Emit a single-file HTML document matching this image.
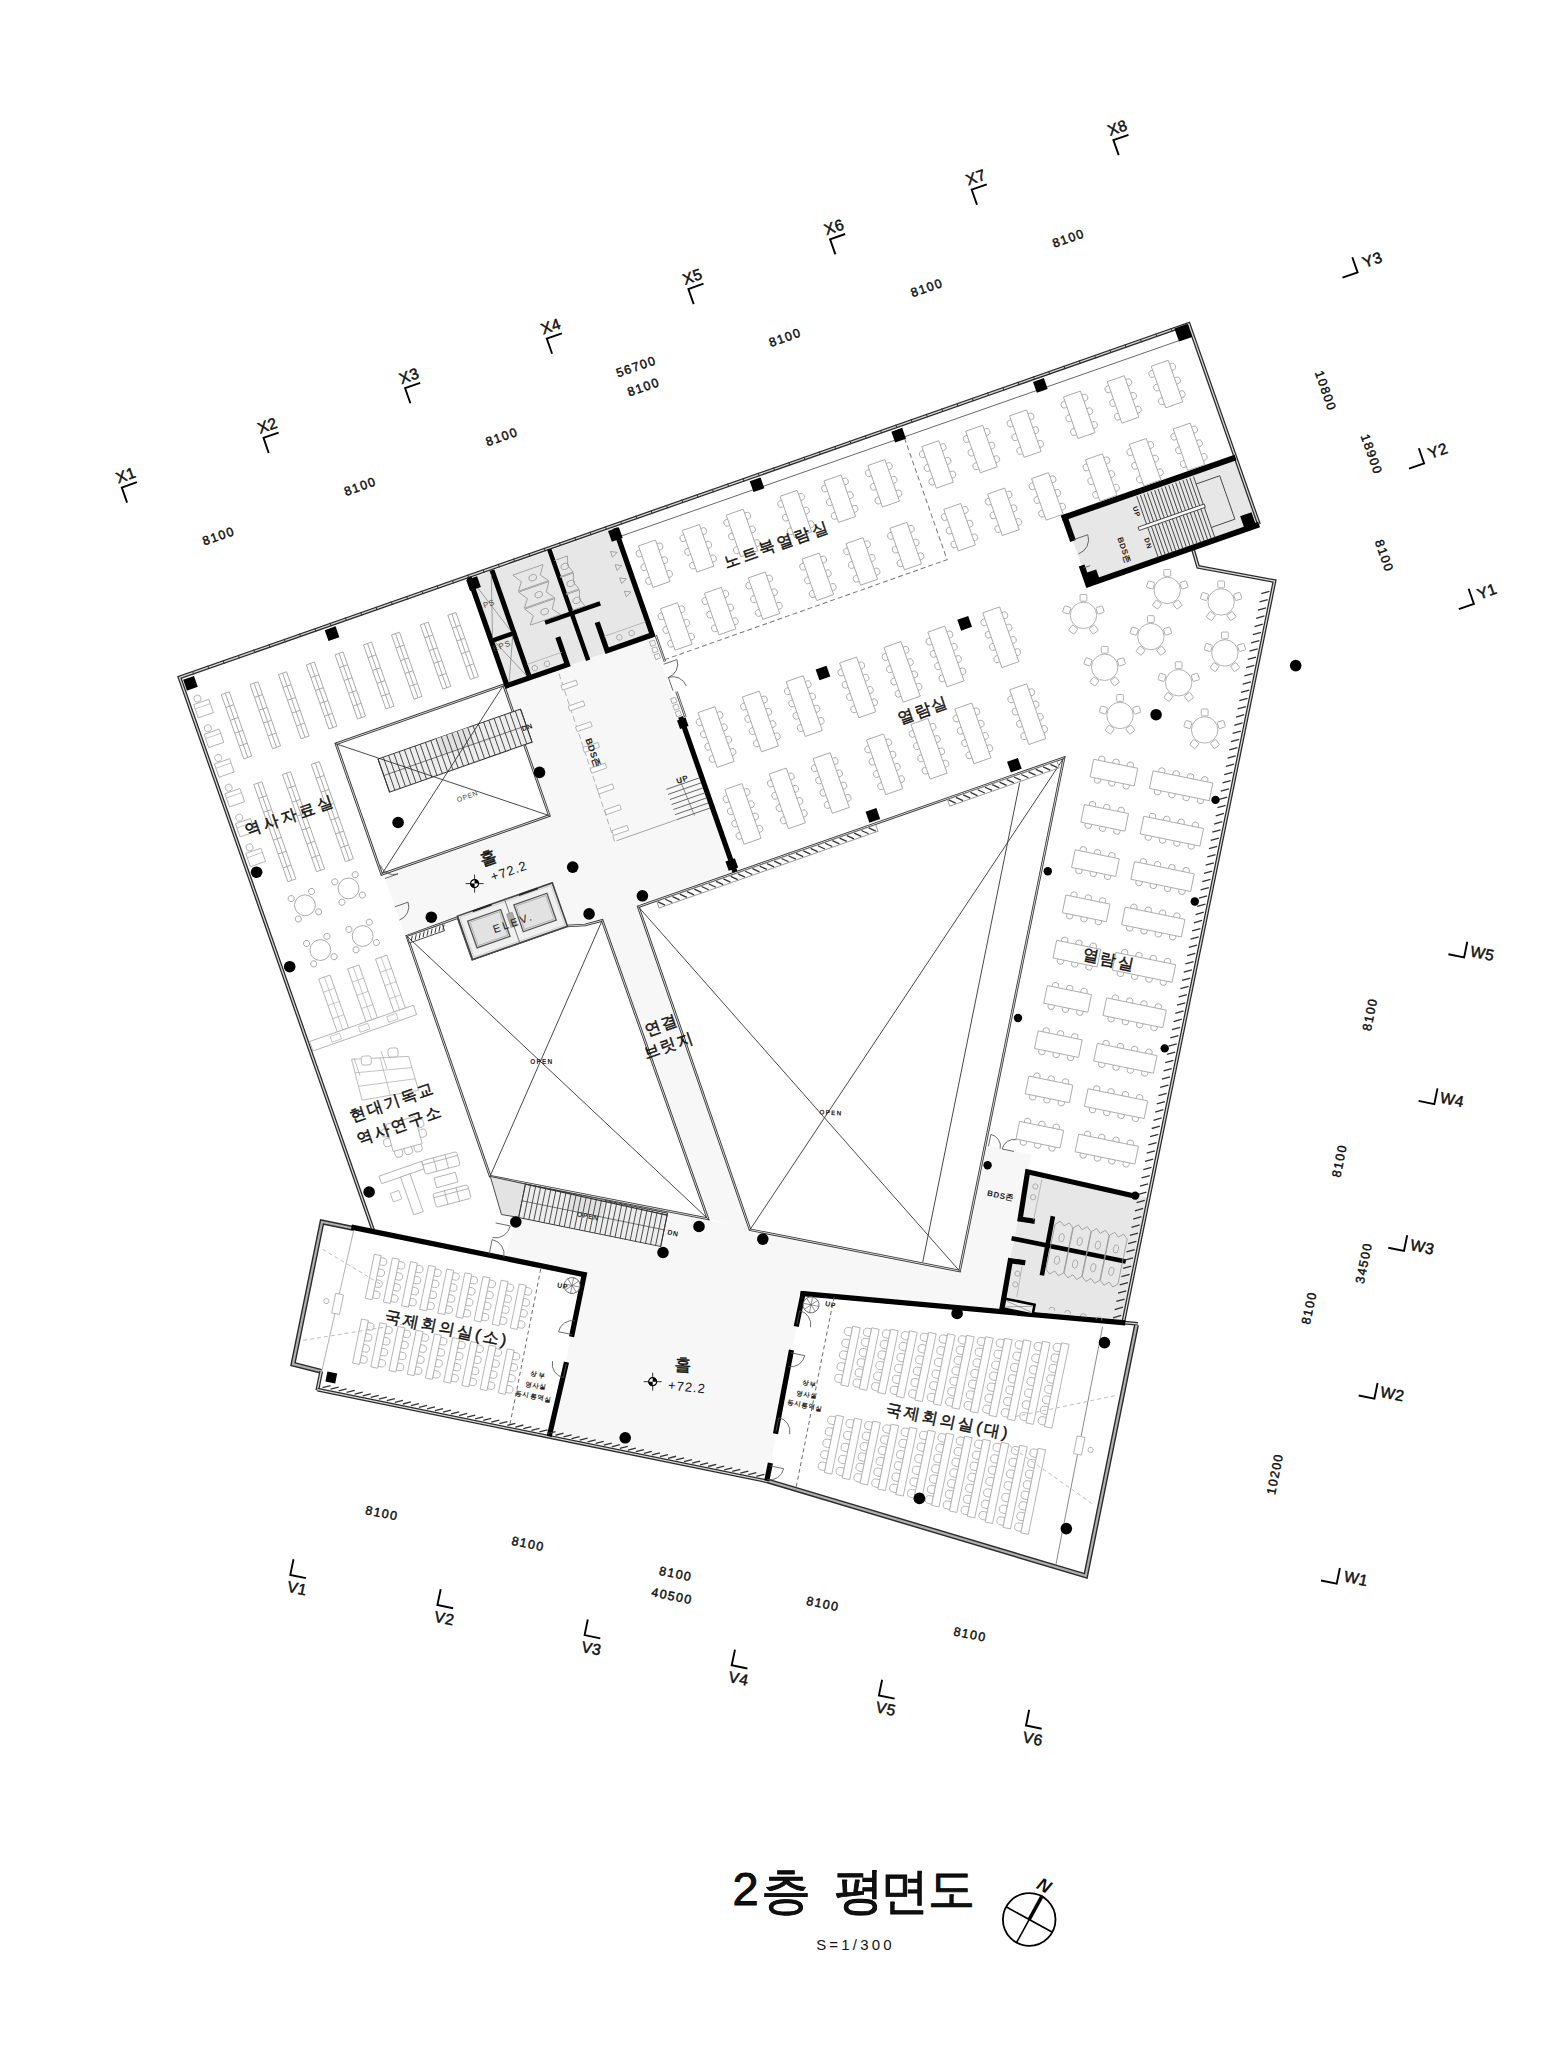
<!DOCTYPE html>
<html><head><meta charset="utf-8"><style>
html,body{margin:0;padding:0;background:#fff;overflow:hidden;}
svg{display:block;}
</style></head><body>
<svg width="1559" height="2048" viewBox="0 0 1559 2048">
<rect width="1559" height="2048" fill="#fff"/>
<polyline points="136.9,482.2 121.8,487.5 127.1,502.6" fill="none" stroke="#000" stroke-width="1.9"/>
<text x="125.9" y="474.9" font-size="15.5" font-family='"Liberation Sans", sans-serif' font-weight="normal" text-anchor="middle" dominant-baseline="central" fill="#111" letter-spacing="0.5" transform="rotate(-19.31 125.9 474.9)"  stroke="#111" stroke-width="0.5">X1</text>
<polyline points="278.6,432.6 263.5,437.9 268.7,453.0" fill="none" stroke="#000" stroke-width="1.9"/>
<text x="267.5" y="425.3" font-size="15.5" font-family='"Liberation Sans", sans-serif' font-weight="normal" text-anchor="middle" dominant-baseline="central" fill="#111" letter-spacing="0.5" transform="rotate(-19.31 267.5 425.3)"  stroke="#111" stroke-width="0.5">X2</text>
<polyline points="420.2,382.9 405.1,388.2 410.4,403.3" fill="none" stroke="#000" stroke-width="1.9"/>
<text x="409.2" y="375.7" font-size="15.5" font-family='"Liberation Sans", sans-serif' font-weight="normal" text-anchor="middle" dominant-baseline="central" fill="#111" letter-spacing="0.5" transform="rotate(-19.31 409.2 375.7)"  stroke="#111" stroke-width="0.5">X3</text>
<polyline points="561.9,333.3 546.8,338.6 552.1,353.7" fill="none" stroke="#000" stroke-width="1.9"/>
<text x="550.8" y="326.0" font-size="15.5" font-family='"Liberation Sans", sans-serif' font-weight="normal" text-anchor="middle" dominant-baseline="central" fill="#111" letter-spacing="0.5" transform="rotate(-19.31 550.8 326.0)"  stroke="#111" stroke-width="0.5">X4</text>
<polyline points="703.5,283.7 688.4,289.0 693.7,304.1" fill="none" stroke="#000" stroke-width="1.9"/>
<text x="692.5" y="276.4" font-size="15.5" font-family='"Liberation Sans", sans-serif' font-weight="normal" text-anchor="middle" dominant-baseline="central" fill="#111" letter-spacing="0.5" transform="rotate(-19.31 692.5 276.4)"  stroke="#111" stroke-width="0.5">X5</text>
<polyline points="845.2,234.0 830.1,239.3 835.4,254.4" fill="none" stroke="#000" stroke-width="1.9"/>
<text x="834.2" y="226.8" font-size="15.5" font-family='"Liberation Sans", sans-serif' font-weight="normal" text-anchor="middle" dominant-baseline="central" fill="#111" letter-spacing="0.5" transform="rotate(-19.31 834.2 226.8)"  stroke="#111" stroke-width="0.5">X6</text>
<polyline points="986.8,184.4 971.7,189.7 977.0,204.8" fill="none" stroke="#000" stroke-width="1.9"/>
<text x="975.8" y="177.1" font-size="15.5" font-family='"Liberation Sans", sans-serif' font-weight="normal" text-anchor="middle" dominant-baseline="central" fill="#111" letter-spacing="0.5" transform="rotate(-19.31 975.8 177.1)"  stroke="#111" stroke-width="0.5">X7</text>
<polyline points="1128.5,134.8 1113.4,140.0 1118.7,155.1" fill="none" stroke="#000" stroke-width="1.9"/>
<text x="1117.5" y="127.5" font-size="15.5" font-family='"Liberation Sans", sans-serif' font-weight="normal" text-anchor="middle" dominant-baseline="central" fill="#111" letter-spacing="0.5" transform="rotate(-19.31 1117.5 127.5)"  stroke="#111" stroke-width="0.5">X8</text>
<text x="218.7" y="536.2" font-size="12.5" font-family='"Liberation Sans", sans-serif' font-weight="normal" text-anchor="middle" dominant-baseline="central" fill="#111" letter-spacing="1.4" transform="rotate(-19.31 218.7 536.2)"  stroke="#111" stroke-width="0.45">8100</text>
<text x="360.4" y="486.6" font-size="12.5" font-family='"Liberation Sans", sans-serif' font-weight="normal" text-anchor="middle" dominant-baseline="central" fill="#111" letter-spacing="1.4" transform="rotate(-19.31 360.4 486.6)"  stroke="#111" stroke-width="0.45">8100</text>
<text x="502.0" y="436.9" font-size="12.5" font-family='"Liberation Sans", sans-serif' font-weight="normal" text-anchor="middle" dominant-baseline="central" fill="#111" letter-spacing="1.4" transform="rotate(-19.31 502.0 436.9)"  stroke="#111" stroke-width="0.45">8100</text>
<text x="643.7" y="387.3" font-size="12.5" font-family='"Liberation Sans", sans-serif' font-weight="normal" text-anchor="middle" dominant-baseline="central" fill="#111" letter-spacing="1.4" transform="rotate(-19.31 643.7 387.3)"  stroke="#111" stroke-width="0.45">8100</text>
<text x="785.3" y="337.6" font-size="12.5" font-family='"Liberation Sans", sans-serif' font-weight="normal" text-anchor="middle" dominant-baseline="central" fill="#111" letter-spacing="1.4" transform="rotate(-19.31 785.3 337.6)"  stroke="#111" stroke-width="0.45">8100</text>
<text x="927.0" y="288.0" font-size="12.5" font-family='"Liberation Sans", sans-serif' font-weight="normal" text-anchor="middle" dominant-baseline="central" fill="#111" letter-spacing="1.4" transform="rotate(-19.31 927.0 288.0)"  stroke="#111" stroke-width="0.45">8100</text>
<text x="1068.6" y="238.4" font-size="12.5" font-family='"Liberation Sans", sans-serif' font-weight="normal" text-anchor="middle" dominant-baseline="central" fill="#111" letter-spacing="1.4" transform="rotate(-19.31 1068.6 238.4)"  stroke="#111" stroke-width="0.45">8100</text>
<text x="636.3" y="366.9" font-size="12.5" font-family='"Liberation Sans", sans-serif' font-weight="normal" text-anchor="middle" dominant-baseline="central" fill="#111" letter-spacing="1.4" transform="rotate(-19.31 636.3 366.9)"  stroke="#111" stroke-width="0.45">56700</text>
<polyline points="1352.3,257.3 1357.6,272.4 1342.5,277.7" fill="none" stroke="#000" stroke-width="1.9"/>
<text x="1372.3" y="259.5" font-size="15.5" font-family='"Liberation Sans", sans-serif' font-weight="normal" text-anchor="middle" dominant-baseline="central" fill="#111" letter-spacing="0.5" transform="rotate(-19.31 1372.3 259.5)"  stroke="#111" stroke-width="0.5">Y3</text>
<polyline points="1418.8,448.2 1424.1,463.3 1409.0,468.6" fill="none" stroke="#000" stroke-width="1.9"/>
<text x="1437.8" y="450.6" font-size="15.5" font-family='"Liberation Sans", sans-serif' font-weight="normal" text-anchor="middle" dominant-baseline="central" fill="#111" letter-spacing="0.5" transform="rotate(-19.31 1437.8 450.6)"  stroke="#111" stroke-width="0.5">Y2</text>
<polyline points="1468.6,588.8 1473.9,603.9 1458.8,609.2" fill="none" stroke="#000" stroke-width="1.9"/>
<text x="1487.0" y="591.2" font-size="15.5" font-family='"Liberation Sans", sans-serif' font-weight="normal" text-anchor="middle" dominant-baseline="central" fill="#111" letter-spacing="0.5" transform="rotate(-19.31 1487.0 591.2)"  stroke="#111" stroke-width="0.5">Y1</text>
<text x="1325.4" y="391.0" font-size="12.5" font-family='"Liberation Sans", sans-serif' font-weight="normal" text-anchor="middle" dominant-baseline="central" fill="#111" letter-spacing="1.4" transform="rotate(70.69 1325.4 391.0)"  stroke="#111" stroke-width="0.45">10800</text>
<text x="1371.3" y="454.5" font-size="12.5" font-family='"Liberation Sans", sans-serif' font-weight="normal" text-anchor="middle" dominant-baseline="central" fill="#111" letter-spacing="1.4" transform="rotate(70.69 1371.3 454.5)"  stroke="#111" stroke-width="0.45">18900</text>
<text x="1384.0" y="556.0" font-size="12.5" font-family='"Liberation Sans", sans-serif' font-weight="normal" text-anchor="middle" dominant-baseline="central" fill="#111" letter-spacing="1.4" transform="rotate(70.69 1384.0 556.0)"  stroke="#111" stroke-width="0.45">8100</text>
<polyline points="1467.3,941.7 1464.1,957.4 1448.4,954.2" fill="none" stroke="#000" stroke-width="1.9"/>
<text x="1482.5" y="953.2" font-size="15.5" font-family='"Liberation Sans", sans-serif' font-weight="normal" text-anchor="middle" dominant-baseline="central" fill="#111" letter-spacing="0.5" transform="rotate(11.57 1482.5 953.2)"  stroke="#111" stroke-width="0.5">W5</text>
<polyline points="1437.5,1088.4 1434.3,1104.1 1418.6,1100.9" fill="none" stroke="#000" stroke-width="1.9"/>
<text x="1452.2" y="1099.6" font-size="15.5" font-family='"Liberation Sans", sans-serif' font-weight="normal" text-anchor="middle" dominant-baseline="central" fill="#111" letter-spacing="0.5" transform="rotate(11.57 1452.2 1099.6)"  stroke="#111" stroke-width="0.5">W4</text>
<polyline points="1407.2,1235.3 1404.0,1251.0 1388.3,1247.8" fill="none" stroke="#000" stroke-width="1.9"/>
<text x="1422.5" y="1246.9" font-size="15.5" font-family='"Liberation Sans", sans-serif' font-weight="normal" text-anchor="middle" dominant-baseline="central" fill="#111" letter-spacing="0.5" transform="rotate(11.57 1422.5 1246.9)"  stroke="#111" stroke-width="0.5">W3</text>
<polyline points="1377.6,1383.0 1374.4,1398.7 1358.7,1395.5" fill="none" stroke="#000" stroke-width="1.9"/>
<text x="1392.4" y="1393.8" font-size="15.5" font-family='"Liberation Sans", sans-serif' font-weight="normal" text-anchor="middle" dominant-baseline="central" fill="#111" letter-spacing="0.5" transform="rotate(11.57 1392.4 1393.8)"  stroke="#111" stroke-width="0.5">W2</text>
<polyline points="1339.9,1568.0 1336.7,1583.7 1321.0,1580.5" fill="none" stroke="#000" stroke-width="1.9"/>
<text x="1356.2" y="1578.4" font-size="15.5" font-family='"Liberation Sans", sans-serif' font-weight="normal" text-anchor="middle" dominant-baseline="central" fill="#111" letter-spacing="0.5" transform="rotate(11.57 1356.2 1578.4)"  stroke="#111" stroke-width="0.5">W1</text>
<text x="1370.2" y="1014.3" font-size="12.5" font-family='"Liberation Sans", sans-serif' font-weight="normal" text-anchor="middle" dominant-baseline="central" fill="#111" letter-spacing="1.4" transform="rotate(-78.43 1370.2 1014.3)"  stroke="#111" stroke-width="0.45">8100</text>
<text x="1339.7" y="1160.7" font-size="12.5" font-family='"Liberation Sans", sans-serif' font-weight="normal" text-anchor="middle" dominant-baseline="central" fill="#111" letter-spacing="1.4" transform="rotate(-78.43 1339.7 1160.7)"  stroke="#111" stroke-width="0.45">8100</text>
<text x="1364.0" y="1263.0" font-size="12.5" font-family='"Liberation Sans", sans-serif' font-weight="normal" text-anchor="middle" dominant-baseline="central" fill="#111" letter-spacing="1.4" transform="rotate(-78.43 1364.0 1263.0)"  stroke="#111" stroke-width="0.45">34500</text>
<text x="1309.3" y="1307.9" font-size="12.5" font-family='"Liberation Sans", sans-serif' font-weight="normal" text-anchor="middle" dominant-baseline="central" fill="#111" letter-spacing="1.4" transform="rotate(-78.43 1309.3 1307.9)"  stroke="#111" stroke-width="0.45">8100</text>
<text x="1275.2" y="1473.9" font-size="12.5" font-family='"Liberation Sans", sans-serif' font-weight="normal" text-anchor="middle" dominant-baseline="central" fill="#111" letter-spacing="1.4" transform="rotate(-78.43 1275.2 1473.9)"  stroke="#111" stroke-width="0.45">10200</text>
<polyline points="293.5,1559.2 290.3,1574.9 306.0,1578.1" fill="none" stroke="#000" stroke-width="1.9"/>
<text x="297.3" y="1588.1" font-size="15.5" font-family='"Liberation Sans", sans-serif' font-weight="normal" text-anchor="middle" dominant-baseline="central" fill="#111" letter-spacing="0.5" transform="rotate(11.57 297.3 1588.1)"  stroke="#111" stroke-width="0.5">V1</text>
<polyline points="440.7,1589.3 437.4,1605.0 453.1,1608.2" fill="none" stroke="#000" stroke-width="1.9"/>
<text x="444.4" y="1618.2" font-size="15.5" font-family='"Liberation Sans", sans-serif' font-weight="normal" text-anchor="middle" dominant-baseline="central" fill="#111" letter-spacing="0.5" transform="rotate(11.57 444.4 1618.2)"  stroke="#111" stroke-width="0.5">V2</text>
<polyline points="587.8,1619.5 584.6,1635.1 600.3,1638.4" fill="none" stroke="#000" stroke-width="1.9"/>
<text x="591.6" y="1648.3" font-size="15.5" font-family='"Liberation Sans", sans-serif' font-weight="normal" text-anchor="middle" dominant-baseline="central" fill="#111" letter-spacing="0.5" transform="rotate(11.57 591.6 1648.3)"  stroke="#111" stroke-width="0.5">V3</text>
<polyline points="735.0,1649.6 731.7,1665.3 747.4,1668.5" fill="none" stroke="#000" stroke-width="1.9"/>
<text x="738.7" y="1678.4" font-size="15.5" font-family='"Liberation Sans", sans-serif' font-weight="normal" text-anchor="middle" dominant-baseline="central" fill="#111" letter-spacing="0.5" transform="rotate(11.57 738.7 1678.4)"  stroke="#111" stroke-width="0.5">V4</text>
<polyline points="882.1,1679.7 878.9,1695.4 894.6,1698.6" fill="none" stroke="#000" stroke-width="1.9"/>
<text x="885.9" y="1708.6" font-size="15.5" font-family='"Liberation Sans", sans-serif' font-weight="normal" text-anchor="middle" dominant-baseline="central" fill="#111" letter-spacing="0.5" transform="rotate(11.57 885.9 1708.6)"  stroke="#111" stroke-width="0.5">V5</text>
<polyline points="1029.2,1709.8 1026.0,1725.5 1041.7,1728.7" fill="none" stroke="#000" stroke-width="1.9"/>
<text x="1033.0" y="1738.7" font-size="15.5" font-family='"Liberation Sans", sans-serif' font-weight="normal" text-anchor="middle" dominant-baseline="central" fill="#111" letter-spacing="0.5" transform="rotate(11.57 1033.0 1738.7)"  stroke="#111" stroke-width="0.5">V6</text>
<text x="381.9" y="1513.4" font-size="12.5" font-family='"Liberation Sans", sans-serif' font-weight="normal" text-anchor="middle" dominant-baseline="central" fill="#111" letter-spacing="1.4" transform="rotate(11.57 381.9 1513.4)"  stroke="#111" stroke-width="0.45">8100</text>
<text x="528.1" y="1544.1" font-size="12.5" font-family='"Liberation Sans", sans-serif' font-weight="normal" text-anchor="middle" dominant-baseline="central" fill="#111" letter-spacing="1.4" transform="rotate(11.57 528.1 1544.1)"  stroke="#111" stroke-width="0.45">8100</text>
<text x="675.7" y="1574.1" font-size="12.5" font-family='"Liberation Sans", sans-serif' font-weight="normal" text-anchor="middle" dominant-baseline="central" fill="#111" letter-spacing="1.4" transform="rotate(11.57 675.7 1574.1)"  stroke="#111" stroke-width="0.45">8100</text>
<text x="822.9" y="1604.1" font-size="12.5" font-family='"Liberation Sans", sans-serif' font-weight="normal" text-anchor="middle" dominant-baseline="central" fill="#111" letter-spacing="1.4" transform="rotate(11.57 822.9 1604.1)"  stroke="#111" stroke-width="0.45">8100</text>
<text x="970.1" y="1634.7" font-size="12.5" font-family='"Liberation Sans", sans-serif' font-weight="normal" text-anchor="middle" dominant-baseline="central" fill="#111" letter-spacing="1.4" transform="rotate(11.57 970.1 1634.7)"  stroke="#111" stroke-width="0.45">8100</text>
<text x="672.0" y="1596.3" font-size="12.5" font-family='"Liberation Sans", sans-serif' font-weight="normal" text-anchor="middle" dominant-baseline="central" fill="#111" letter-spacing="1.4" transform="rotate(11.57 672.0 1596.3)"  stroke="#111" stroke-width="0.45">40500</text>
<text x="745.5" y="1888.5" font-size="47" font-family='"Liberation Sans", sans-serif' font-weight="normal" text-anchor="middle" dominant-baseline="central" fill="#111" letter-spacing="0" transform="rotate(0.00 745.5 1888.5)" stroke="#000" stroke-width="0.9">2</text>
<text x="786.0" y="1891.0" font-size="50" font-family='"Liberation Sans", sans-serif' font-weight="normal" text-anchor="middle" dominant-baseline="central" fill="#111" letter-spacing="0" transform="rotate(0.00 786.0 1891.0)" stroke="#000" stroke-width="0.9">층</text>
<text x="859.0" y="1891.0" font-size="50" font-family='"Liberation Sans", sans-serif' font-weight="normal" text-anchor="middle" dominant-baseline="central" fill="#111" letter-spacing="0" transform="rotate(0.00 859.0 1891.0)" stroke="#000" stroke-width="0.9">평</text>
<text x="904.0" y="1890.5" font-size="49" font-family='"Liberation Sans", sans-serif' font-weight="normal" text-anchor="middle" dominant-baseline="central" fill="#111" letter-spacing="0" transform="rotate(0.00 904.0 1890.5)" stroke="#000" stroke-width="0.9">면</text>
<text x="951.0" y="1888.5" font-size="47" font-family='"Liberation Sans", sans-serif' font-weight="normal" text-anchor="middle" dominant-baseline="central" fill="#111" letter-spacing="0" transform="rotate(0.00 951.0 1888.5)" stroke="#000" stroke-width="0.9">도</text>
<text x="855.5" y="1944.3" font-size="15" font-family='"Liberation Sans", sans-serif' font-weight="normal" text-anchor="middle" dominant-baseline="central" fill="#111" letter-spacing="3.2" transform="rotate(0.00 855.5 1944.3)" >S=1/300</text>
<circle cx="1029.2" cy="1919.5" r="26.3" fill="none" stroke="#000" stroke-width="1.8"/>
<line x1="1016.5" y1="1942.7" x2="1041.9" y2="1896.3" stroke="#000" stroke-width="1.6"/>
<line x1="1029.2" y1="1919.5" x2="1042.4" y2="1895.4" stroke="#000" stroke-width="3.6"/>
<line x1="1052.4" y1="1932.2" x2="1006.0" y2="1906.8" stroke="#000" stroke-width="1.6"/>
<text x="1044.0" y="1885.5" font-size="18" font-family='"Liberation Sans", sans-serif' font-weight="bold" text-anchor="middle" dominant-baseline="central" fill="#111" letter-spacing="0" transform="rotate(28.70 1044.0 1885.5)" font-style="italic">N</text>
<polygon points="505.6,687.8 651.9,636.6 734.6,872.5 638.3,906.7 649.4,938.4 613.7,950.9 602.9,920.1 584.5,925.1 566.8,926.0 552.0,883.5 404.7,935.1 383.2,873.8 550.3,815.2" fill="#f7f7f7" stroke="none" stroke-width="1" />
<polygon points="600.5,913.1 636.2,900.6 750.0,1229.7 707.9,1218.8" fill="#f7f7f7" stroke="none" stroke-width="1" />
<polygon points="490.1,1176.2 959.6,1271.0 985.3,1145.1 1031.5,1154.5 1000.1,1308.4 803.0,1293.7 767.1,1481.3 550.8,1434.1 583.6,1273.4 505.2,1257.4 516.5,1216.8 501.3,1214.3" fill="#f7f7f7" stroke="none" stroke-width="1" />
<polygon points="467.6,579.3 616.7,527.0 654.7,635.6 505.6,687.8" fill="#e7e7e7" stroke="none" stroke-width="1" />
<polygon points="1064.4,516.4 1235.2,456.5 1259.0,524.5 1088.2,584.3" fill="#e7e7e7" stroke="none" stroke-width="1" />
<polygon points="1027.7,1173.1 1150.2,1198.1 1124.7,1322.9 1000.3,1307.4" fill="#e7e7e7" stroke="none" stroke-width="1" />
<polygon points="336.0,743.8 503.6,685.0 549.3,815.6 381.7,874.3" fill="#fff" stroke="none" stroke-width="1" />
<polygon points="406.9,936.1 457.9,917.5 472.5,959.0 566.8,926.0 585.1,925.0 602.2,920.4 707.9,1218.8 490.1,1176.2" fill="#fff" stroke="none" stroke-width="1" />
<polygon points="638.3,906.7 1064.0,757.7 959.6,1271.0 750.0,1229.7" fill="#fff" stroke="none" stroke-width="1" />
<polygon points="336.0,743.8 503.6,685.0 549.3,815.6 381.7,874.3" fill="none" stroke="#333" stroke-width="2.6"/>
<polygon points="336.0,743.8 503.6,685.0 549.3,815.6 381.7,874.3" fill="none" stroke="#fff" stroke-width="0.8"/>
<polygon points="406.9,936.1 457.9,917.5 472.5,959.0 566.8,926.0 585.1,925.0 602.2,920.4 707.9,1218.8 490.1,1176.2" fill="none" stroke="#333" stroke-width="2.6"/>
<polygon points="406.9,936.1 457.9,917.5 472.5,959.0 566.8,926.0 585.1,925.0 602.2,920.4 707.9,1218.8 490.1,1176.2" fill="none" stroke="#fff" stroke-width="0.8"/>
<polygon points="638.3,906.7 1064.0,757.7 959.6,1271.0 750.0,1229.7" fill="none" stroke="#333" stroke-width="2.6"/>
<polygon points="638.3,906.7 1064.0,757.7 959.6,1271.0 750.0,1229.7" fill="none" stroke="#fff" stroke-width="0.8"/>
<line x1="638.3" y1="906.7" x2="959.6" y2="1271.0" stroke="#333" stroke-width="0.9" />
<line x1="1064.0" y1="757.7" x2="750.0" y2="1229.7" stroke="#333" stroke-width="0.9" />
<line x1="1019.7" y1="782.7" x2="922.7" y2="1262.2" stroke="#333" stroke-width="0.9" />
<polyline points="373.2,1230.4 179.5,677.5 1188.7,323.9 1259.0,524.5" fill="none" stroke="#2a2a2a" stroke-width="3.8" stroke-linejoin="miter"/>
<polyline points="373.2,1230.4 179.5,677.5 1188.7,323.9 1259.0,524.5" fill="none" stroke="#d8d8d8" stroke-width="1.3" stroke-linejoin="miter"/>
<polyline points="1193.2,550.1 1198.1,566.9 1274.5,581.1 1123.2,1322.6" fill="none" stroke="#2a2a2a" stroke-width="3.8" stroke-linejoin="miter"/>
<polyline points="1193.2,550.1 1198.1,566.9 1274.5,581.1 1123.2,1322.6" fill="none" stroke="#d8d8d8" stroke-width="1.3" stroke-linejoin="miter"/>
<polyline points="804.8,1294.1 1137.8,1323.8" fill="none" stroke="#2a2a2a" stroke-width="3.8" stroke-linejoin="miter"/>
<polyline points="804.8,1294.1 1137.8,1323.8" fill="none" stroke="#d8d8d8" stroke-width="1.3" stroke-linejoin="miter"/>
<polyline points="1136.5,1325.0 1085.7,1575.9 767.2,1480.8" fill="none" stroke="#2a2a2a" stroke-width="5" stroke-linejoin="miter"/>
<polyline points="1136.5,1325.0 1085.7,1575.9 767.2,1480.8" fill="none" stroke="#b0b0b0" stroke-width="2.2" stroke-linejoin="miter"/>
<polyline points="353.8,1228.5 322.0,1222.0 293.0,1364.1 321.2,1371.3" fill="none" stroke="#2a2a2a" stroke-width="5" stroke-linejoin="miter"/>
<polyline points="353.8,1228.5 322.0,1222.0 293.0,1364.1 321.2,1371.3" fill="none" stroke="#b0b0b0" stroke-width="2.2" stroke-linejoin="miter"/>
<polyline points="321.2,1371.3 317.3,1390.5" fill="none" stroke="#2a2a2a" stroke-width="3.8" stroke-linejoin="miter"/>
<polyline points="321.2,1371.3 317.3,1390.5" fill="none" stroke="#d8d8d8" stroke-width="1.3" stroke-linejoin="miter"/>
<polyline points="317.5,1389.6 767.1,1481.3" fill="none" stroke="#2a2a2a" stroke-width="3.8" stroke-linejoin="miter"/>
<polyline points="317.5,1389.6 767.1,1481.3" fill="none" stroke="#d8d8d8" stroke-width="1.3" stroke-linejoin="miter"/>
<polyline points="469.8,579.6 507.0,685.7 567.4,664.6 558.7,639.6" fill="none" stroke="#000" stroke-width="5.2" stroke-linecap="square" stroke-linejoin="miter"/>
<polyline points="492.8,572.6 529.2,676.4" fill="none" stroke="#000" stroke-width="5" stroke-linecap="square" stroke-linejoin="miter"/>
<polyline points="492.3,640.6 514.0,633.0" fill="none" stroke="#000" stroke-width="4.5" stroke-linecap="square" stroke-linejoin="miter"/>
<polyline points="550.0,551.5 587.4,658.1" fill="none" stroke="#000" stroke-width="4.5" stroke-linecap="square" stroke-linejoin="miter"/>
<polyline points="547.2,621.9 598.1,604.0" fill="none" stroke="#000" stroke-width="4.5" stroke-linecap="square" stroke-linejoin="miter"/>
<polyline points="598.0,624.7 607.1,650.7 652.4,634.8 615.8,530.5" fill="none" stroke="#000" stroke-width="5.2" stroke-linecap="square" stroke-linejoin="miter"/>
<polyline points="681.5,719.4 734.1,869.5" fill="none" stroke="#000" stroke-width="5.2" stroke-linecap="square" stroke-linejoin="miter"/>
<polyline points="1064.7,517.3 1232.7,458.5" fill="none" stroke="#000" stroke-width="6" stroke-linecap="square" stroke-linejoin="miter"/>
<polyline points="1064.7,517.3 1072.0,538.1" fill="none" stroke="#000" stroke-width="6" stroke-linecap="square" stroke-linejoin="miter"/>
<polyline points="1082.6,568.3 1088.2,584.3 1256.2,525.5" fill="none" stroke="#000" stroke-width="6" stroke-linecap="square" stroke-linejoin="miter"/>
<polyline points="354.0,1227.6 584.3,1274.6 572.1,1334.3" fill="none" stroke="#000" stroke-width="5.2" stroke-linecap="square" stroke-linejoin="miter"/>
<polyline points="565.9,1364.7 549.8,1433.9" fill="none" stroke="#000" stroke-width="5.2" stroke-linecap="square" stroke-linejoin="miter"/>
<polyline points="803.0,1293.7 796.8,1324.0" fill="none" stroke="#000" stroke-width="5.2" stroke-linecap="square" stroke-linejoin="miter"/>
<polyline points="791.0,1352.5 776.0,1431.1" fill="none" stroke="#000" stroke-width="5.2" stroke-linecap="square" stroke-linejoin="miter"/>
<polyline points="769.9,1465.6 767.3,1478.3" fill="none" stroke="#000" stroke-width="5.2" stroke-linecap="square" stroke-linejoin="miter"/>
<polyline points="1032.2,1221.0 1020.1,1219.1 1027.6,1171.8 1135.1,1196.1" fill="none" stroke="#000" stroke-width="5.2" stroke-linecap="square" stroke-linejoin="miter"/>
<polyline points="1013.8,1238.7 1123.5,1261.1" fill="none" stroke="#000" stroke-width="4.6" stroke-linecap="square" stroke-linejoin="miter"/>
<polyline points="1052.5,1218.5 1042.3,1273.1" fill="none" stroke="#000" stroke-width="4.6" stroke-linecap="square" stroke-linejoin="miter"/>
<polyline points="1022.7,1262.4 1010.3,1260.7 1001.6,1310.7" fill="none" stroke="#000" stroke-width="5.2" stroke-linecap="square" stroke-linejoin="miter"/>
<polyline points="803.0,1293.7 1122.7,1322.7" fill="none" stroke="#000" stroke-width="5.2" stroke-linecap="square" stroke-linejoin="miter"/>
<defs><g id="t3" fill="#fff" stroke="#a9a9a9" stroke-width="0.9"><circle cx="-10.5" cy="-14.5" r="3.4"/><circle cx="10.5" cy="-14.5" r="3.4"/><circle cx="-10.5" cy="0" r="3.4"/><circle cx="10.5" cy="0" r="3.4"/><circle cx="-10.5" cy="14.5" r="3.4"/><circle cx="10.5" cy="14.5" r="3.4"/><rect x="-9" y="-22" width="18" height="44"/></g><g id="t4" fill="#fff" stroke="#a9a9a9" stroke-width="0.9"><circle cx="-10.5" cy="-19.5" r="3.4"/><circle cx="10.5" cy="-19.5" r="3.4"/><circle cx="-10.5" cy="-6.5" r="3.4"/><circle cx="10.5" cy="-6.5" r="3.4"/><circle cx="-10.5" cy="6.5" r="3.4"/><circle cx="10.5" cy="6.5" r="3.4"/><circle cx="-10.5" cy="19.5" r="3.4"/><circle cx="10.5" cy="19.5" r="3.4"/><rect x="-9" y="-29" width="18" height="58"/></g><g id="rt4" fill="#fff" stroke="#a9a9a9" stroke-width="0.9"><circle cx="10.8" cy="10.8" r="3.1"/><circle cx="-10.8" cy="10.8" r="3.1"/><circle cx="-10.8" cy="-10.8" r="3.1"/><circle cx="10.8" cy="-10.8" r="3.1"/><circle r="10.4"/></g><g id="rt5" fill="#fff" stroke="#a9a9a9" stroke-width="0.9"><rect x="-3.4" y="-3.4" width="6.8" height="6.8" rx="1" transform="rotate(0) translate(0,-17.5)"/><rect x="-3.4" y="-3.4" width="6.8" height="6.8" rx="1" transform="rotate(72) translate(0,-17.5)"/><rect x="-3.4" y="-3.4" width="6.8" height="6.8" rx="1" transform="rotate(144) translate(0,-17.5)"/><rect x="-3.4" y="-3.4" width="6.8" height="6.8" rx="1" transform="rotate(216) translate(0,-17.5)"/><rect x="-3.4" y="-3.4" width="6.8" height="6.8" rx="1" transform="rotate(288) translate(0,-17.5)"/><circle r="13.2"/></g><g id="h3" fill="#fff" stroke="#a9a9a9" stroke-width="0.9"><circle cx="-14.6" cy="-10.5" r="3.3"/><circle cx="-14.6" cy="10.5" r="3.3"/><circle cx="0" cy="-10.5" r="3.3"/><circle cx="0" cy="10.5" r="3.3"/><circle cx="14.6" cy="-10.5" r="3.3"/><circle cx="14.6" cy="10.5" r="3.3"/><rect x="-22.5" y="-9" width="45" height="18"/></g><g id="h4" fill="#fff" stroke="#a9a9a9" stroke-width="0.9"><circle cx="-21.9" cy="-10.5" r="3.3"/><circle cx="-21.9" cy="10.5" r="3.3"/><circle cx="-7.3" cy="-10.5" r="3.3"/><circle cx="-7.3" cy="10.5" r="3.3"/><circle cx="7.3" cy="-10.5" r="3.3"/><circle cx="7.3" cy="10.5" r="3.3"/><circle cx="21.9" cy="-10.5" r="3.3"/><circle cx="21.9" cy="10.5" r="3.3"/><rect x="-30.5" y="-9" width="61" height="18"/></g><g id="sh5" fill="#fff" stroke="#a9a9a9" stroke-width="0.9"><rect x="-4.25" y="-34.0" width="8.5" height="68"/><line x1="0" y1="-34.0" x2="0" y2="34.0"/><line x1="-4.25" y1="-20.4" x2="4.25" y2="-20.4"/><line x1="-4.25" y1="-6.8" x2="4.25" y2="-6.8"/><line x1="-4.25" y1="6.8" x2="4.25" y2="6.8"/><line x1="-4.25" y1="20.4" x2="4.25" y2="20.4"/></g><g id="sh7" fill="#fff" stroke="#a9a9a9" stroke-width="0.9"><rect x="-4.25" y="-51.5" width="8.5" height="103"/><line x1="0" y1="-51.5" x2="0" y2="51.5"/><line x1="-4.25" y1="-36.8" x2="4.25" y2="-36.8"/><line x1="-4.25" y1="-22.1" x2="4.25" y2="-22.1"/><line x1="-4.25" y1="-7.4" x2="4.25" y2="-7.4"/><line x1="-4.25" y1="7.4" x2="4.25" y2="7.4"/><line x1="-4.25" y1="22.1" x2="4.25" y2="22.1"/><line x1="-4.25" y1="36.8" x2="4.25" y2="36.8"/></g></defs>
<g transform="matrix(0.94374,-0.33069,0.33069,0.94374,121.8,487.5)"><use href="#t3" transform="translate(477.3,248.0) rotate(0)"/><use href="#t3" transform="translate(477.3,314.5) rotate(0)"/><use href="#t3" transform="translate(523.8,248.0) rotate(0)"/><use href="#t3" transform="translate(523.8,314.5) rotate(0)"/><use href="#t3" transform="translate(570.3,248.0) rotate(0)"/><use href="#t3" transform="translate(570.3,314.5) rotate(0)"/><use href="#t3" transform="translate(627.4,248.0) rotate(0)"/><use href="#t3" transform="translate(627.4,314.5) rotate(0)"/><use href="#t3" transform="translate(673.9,248.0) rotate(0)"/><use href="#t3" transform="translate(673.9,314.5) rotate(0)"/><use href="#t3" transform="translate(720.4,248.0) rotate(0)"/><use href="#t3" transform="translate(720.4,314.5) rotate(0)"/><use href="#t3" transform="translate(777.5,248.0) rotate(0)"/><use href="#t3" transform="translate(777.5,314.5) rotate(0)"/><use href="#t3" transform="translate(824.0,248.0) rotate(0)"/><use href="#t3" transform="translate(824.0,314.5) rotate(0)"/><use href="#t3" transform="translate(870.5,248.0) rotate(0)"/><use href="#t3" transform="translate(870.5,314.5) rotate(0)"/><use href="#t3" transform="translate(927.6,248.0) rotate(0)"/><use href="#t3" transform="translate(927.6,314.5) rotate(0)"/><use href="#t3" transform="translate(974.1,248.0) rotate(0)"/><use href="#t3" transform="translate(974.1,314.5) rotate(0)"/><use href="#t3" transform="translate(1020.6,248.0) rotate(0)"/><use href="#t3" transform="translate(1020.6,314.5) rotate(0)"/><use href="#t4" transform="translate(478.3,432.0) rotate(0)"/><use href="#t4" transform="translate(478.3,513.5) rotate(0)"/><use href="#t4" transform="translate(525.3,432.0) rotate(0)"/><use href="#t4" transform="translate(525.3,513.5) rotate(0)"/><use href="#t4" transform="translate(571.8,432.0) rotate(0)"/><use href="#t4" transform="translate(571.8,513.5) rotate(0)"/><use href="#t4" transform="translate(628.4,432.0) rotate(0)"/><use href="#t4" transform="translate(628.4,513.5) rotate(0)"/><use href="#t4" transform="translate(675.4,432.0) rotate(0)"/><use href="#t4" transform="translate(675.4,513.5) rotate(0)"/><use href="#t4" transform="translate(721.9,432.0) rotate(0)"/><use href="#t4" transform="translate(721.9,513.5) rotate(0)"/><use href="#t4" transform="translate(780.0,432.0) rotate(0)"/><use href="#t4" transform="translate(780.0,513.5) rotate(0)"/><use href="#sh5" transform="translate(29.6,262.4) rotate(0)"/><use href="#sh5" transform="translate(60.1,262.4) rotate(0)"/><use href="#sh5" transform="translate(90.3,262.4) rotate(0)"/><use href="#sh5" transform="translate(119.8,262.4) rotate(0)"/><use href="#sh5" transform="translate(150.2,262.4) rotate(0)"/><use href="#sh5" transform="translate(180.3,262.4) rotate(0)"/><use href="#sh5" transform="translate(210.0,262.4) rotate(0)"/><use href="#sh5" transform="translate(240.5,262.4) rotate(0)"/><use href="#sh5" transform="translate(269.7,262.4) rotate(0)"/><use href="#sh7" transform="translate(30.6,375.5) rotate(0)"/><use href="#sh7" transform="translate(61.0,375.5) rotate(0)"/><use href="#sh7" transform="translate(91.5,375.5) rotate(0)"/><use href="#rt4" transform="translate(34.7,454.8) rotate(0)"/><use href="#rt4" transform="translate(81.4,453.4) rotate(0)"/><use href="#rt4" transform="translate(34.4,502.2) rotate(0)"/><use href="#rt4" transform="translate(79.0,502.9) rotate(0)"/></g>
<g transform="matrix(0.97968,0.20056,-0.20056,0.97968,290.3,1574.9)"><use href="#h3" transform="translate(646.0,-951.2) rotate(0)"/><use href="#h3" transform="translate(646.0,-905.0) rotate(0)"/><use href="#h3" transform="translate(646.0,-858.8) rotate(0)"/><use href="#h3" transform="translate(646.0,-812.6) rotate(0)"/><use href="#h3" transform="translate(646.0,-766.4) rotate(0)"/><use href="#h3" transform="translate(646.0,-720.2) rotate(0)"/><use href="#h3" transform="translate(646.0,-674.0) rotate(0)"/><use href="#h3" transform="translate(646.0,-627.8) rotate(0)"/><use href="#h3" transform="translate(646.0,-581.6) rotate(0)"/><use href="#h4" transform="translate(714.5,-951.8) rotate(0)"/><use href="#h4" transform="translate(714.5,-905.4) rotate(0)"/><use href="#h4" transform="translate(714.5,-859.1) rotate(0)"/><use href="#h4" transform="translate(714.5,-812.7) rotate(0)"/><use href="#h4" transform="translate(714.5,-766.4) rotate(0)"/><use href="#h4" transform="translate(714.5,-720.0) rotate(0)"/><use href="#h4" transform="translate(714.5,-673.6) rotate(0)"/><use href="#h4" transform="translate(714.5,-627.3) rotate(0)"/><use href="#h4" transform="translate(714.5,-580.9) rotate(0)"/><use href="#rt5" transform="translate(661.7,-1140.4) rotate(-11.57)"/><use href="#rt5" transform="translate(716.8,-1139.9) rotate(-11.57)"/><use href="#rt5" transform="translate(584.6,-1099.1) rotate(-11.57)"/><use href="#rt5" transform="translate(654.9,-1091.9) rotate(-11.57)"/><use href="#rt5" transform="translate(730.7,-1090.7) rotate(-11.57)"/><use href="#rt5" transform="translate(615.8,-1052.5) rotate(-11.57)"/><use href="#rt5" transform="translate(691.4,-1052.2) rotate(-11.57)"/><use href="#rt5" transform="translate(640.5,-1008.4) rotate(-11.57)"/><use href="#rt5" transform="translate(726.3,-1011.2) rotate(-11.57)"/></g>
<g transform="matrix(0.94374,-0.33069,0.33069,0.94374,121.8,487.5)"><rect x="152.0" y="341.0" width="151.0" height="35.0" fill="#ededed" stroke="#333" stroke-width="1" /><rect x="212.0" y="341.0" width="36.0" height="17.5" fill="#e0e0e0" stroke="none" stroke-width="0.8" /><line x1="152.0" y1="341.0" x2="152.0" y2="376.0" stroke="#333" stroke-width="0.8" /><line x1="157.6" y1="341.0" x2="157.6" y2="376.0" stroke="#333" stroke-width="0.8" /><line x1="163.2" y1="341.0" x2="163.2" y2="376.0" stroke="#333" stroke-width="0.8" /><line x1="168.8" y1="341.0" x2="168.8" y2="376.0" stroke="#333" stroke-width="0.8" /><line x1="174.4" y1="341.0" x2="174.4" y2="376.0" stroke="#333" stroke-width="0.8" /><line x1="180.0" y1="341.0" x2="180.0" y2="376.0" stroke="#333" stroke-width="0.8" /><line x1="185.6" y1="341.0" x2="185.6" y2="376.0" stroke="#333" stroke-width="0.8" /><line x1="191.1" y1="341.0" x2="191.1" y2="376.0" stroke="#333" stroke-width="0.8" /><line x1="196.7" y1="341.0" x2="196.7" y2="376.0" stroke="#333" stroke-width="0.8" /><line x1="202.3" y1="341.0" x2="202.3" y2="376.0" stroke="#333" stroke-width="0.8" /><line x1="207.9" y1="341.0" x2="207.9" y2="376.0" stroke="#333" stroke-width="0.8" /><line x1="213.5" y1="341.0" x2="213.5" y2="376.0" stroke="#333" stroke-width="0.8" /><line x1="219.1" y1="341.0" x2="219.1" y2="376.0" stroke="#333" stroke-width="0.8" /><line x1="224.7" y1="341.0" x2="224.7" y2="376.0" stroke="#333" stroke-width="0.8" /><line x1="230.3" y1="341.0" x2="230.3" y2="376.0" stroke="#333" stroke-width="0.8" /><line x1="235.9" y1="341.0" x2="235.9" y2="376.0" stroke="#333" stroke-width="0.8" /><line x1="241.5" y1="341.0" x2="241.5" y2="376.0" stroke="#333" stroke-width="0.8" /><line x1="247.1" y1="341.0" x2="247.1" y2="376.0" stroke="#333" stroke-width="0.8" /><line x1="252.7" y1="341.0" x2="252.7" y2="376.0" stroke="#333" stroke-width="0.8" /><line x1="258.3" y1="341.0" x2="258.3" y2="376.0" stroke="#333" stroke-width="0.8" /><line x1="263.9" y1="341.0" x2="263.9" y2="376.0" stroke="#333" stroke-width="0.8" /><line x1="269.4" y1="341.0" x2="269.4" y2="376.0" stroke="#333" stroke-width="0.8" /><line x1="275.0" y1="341.0" x2="275.0" y2="376.0" stroke="#333" stroke-width="0.8" /><line x1="280.6" y1="341.0" x2="280.6" y2="376.0" stroke="#333" stroke-width="0.8" /><line x1="286.2" y1="341.0" x2="286.2" y2="376.0" stroke="#333" stroke-width="0.8" /><line x1="291.8" y1="341.0" x2="291.8" y2="376.0" stroke="#333" stroke-width="0.8" /><line x1="297.4" y1="341.0" x2="297.4" y2="376.0" stroke="#333" stroke-width="0.8" /><line x1="303.0" y1="341.0" x2="303.0" y2="376.0" stroke="#333" stroke-width="0.8" /><line x1="152.0" y1="358.5" x2="303.0" y2="358.5" stroke="#333" stroke-width="0.6" /><line x1="955.0" y1="344.0" x2="955.0" y2="374.0" stroke="#333" stroke-width="0.8" /><line x1="955.0" y1="377.0" x2="955.0" y2="409.0" stroke="#333" stroke-width="0.8" /><line x1="958.8" y1="344.0" x2="958.8" y2="374.0" stroke="#333" stroke-width="0.8" /><line x1="958.8" y1="377.0" x2="958.8" y2="409.0" stroke="#333" stroke-width="0.8" /><line x1="962.5" y1="344.0" x2="962.5" y2="374.0" stroke="#333" stroke-width="0.8" /><line x1="962.5" y1="377.0" x2="962.5" y2="409.0" stroke="#333" stroke-width="0.8" /><line x1="966.2" y1="344.0" x2="966.2" y2="374.0" stroke="#333" stroke-width="0.8" /><line x1="966.2" y1="377.0" x2="966.2" y2="409.0" stroke="#333" stroke-width="0.8" /><line x1="970.0" y1="344.0" x2="970.0" y2="374.0" stroke="#333" stroke-width="0.8" /><line x1="970.0" y1="377.0" x2="970.0" y2="409.0" stroke="#333" stroke-width="0.8" /><line x1="973.8" y1="344.0" x2="973.8" y2="374.0" stroke="#333" stroke-width="0.8" /><line x1="973.8" y1="377.0" x2="973.8" y2="409.0" stroke="#333" stroke-width="0.8" /><line x1="977.5" y1="344.0" x2="977.5" y2="374.0" stroke="#333" stroke-width="0.8" /><line x1="977.5" y1="377.0" x2="977.5" y2="409.0" stroke="#333" stroke-width="0.8" /><line x1="981.2" y1="344.0" x2="981.2" y2="374.0" stroke="#333" stroke-width="0.8" /><line x1="981.2" y1="377.0" x2="981.2" y2="409.0" stroke="#333" stroke-width="0.8" /><line x1="985.0" y1="344.0" x2="985.0" y2="374.0" stroke="#333" stroke-width="0.8" /><line x1="985.0" y1="377.0" x2="985.0" y2="409.0" stroke="#333" stroke-width="0.8" /><line x1="988.8" y1="344.0" x2="988.8" y2="374.0" stroke="#333" stroke-width="0.8" /><line x1="988.8" y1="377.0" x2="988.8" y2="409.0" stroke="#333" stroke-width="0.8" /><line x1="992.5" y1="344.0" x2="992.5" y2="374.0" stroke="#333" stroke-width="0.8" /><line x1="992.5" y1="377.0" x2="992.5" y2="409.0" stroke="#333" stroke-width="0.8" /><line x1="996.2" y1="344.0" x2="996.2" y2="374.0" stroke="#333" stroke-width="0.8" /><line x1="996.2" y1="377.0" x2="996.2" y2="409.0" stroke="#333" stroke-width="0.8" /><line x1="1000.0" y1="344.0" x2="1000.0" y2="374.0" stroke="#333" stroke-width="0.8" /><line x1="1000.0" y1="377.0" x2="1000.0" y2="409.0" stroke="#333" stroke-width="0.8" /><line x1="1003.8" y1="344.0" x2="1003.8" y2="374.0" stroke="#333" stroke-width="0.8" /><line x1="1003.8" y1="377.0" x2="1003.8" y2="409.0" stroke="#333" stroke-width="0.8" /><line x1="1007.5" y1="344.0" x2="1007.5" y2="374.0" stroke="#333" stroke-width="0.8" /><line x1="1007.5" y1="377.0" x2="1007.5" y2="409.0" stroke="#333" stroke-width="0.8" /><line x1="1011.2" y1="344.0" x2="1011.2" y2="374.0" stroke="#333" stroke-width="0.8" /><line x1="1011.2" y1="377.0" x2="1011.2" y2="409.0" stroke="#333" stroke-width="0.8" /><line x1="1015.0" y1="344.0" x2="1015.0" y2="374.0" stroke="#333" stroke-width="0.8" /><line x1="1015.0" y1="377.0" x2="1015.0" y2="409.0" stroke="#333" stroke-width="0.8" /><rect x="946.0" y="373.5" width="70.0" height="3.5" fill="#fff" stroke="#333" stroke-width="0.8" /><polyline points="1015,352 1040,352 1040,398 1015,398" fill="none" stroke="#333" stroke-width="0.8"/><line x1="414.0" y1="465.0" x2="449.0" y2="465.0" stroke="#555" stroke-width="0.8" /><line x1="414.0" y1="470.3" x2="449.0" y2="470.3" stroke="#555" stroke-width="0.8" /><line x1="414.0" y1="475.7" x2="449.0" y2="475.7" stroke="#555" stroke-width="0.8" /><line x1="414.0" y1="481.0" x2="449.0" y2="481.0" stroke="#555" stroke-width="0.8" /><line x1="414.0" y1="486.3" x2="449.0" y2="486.3" stroke="#555" stroke-width="0.8" /><line x1="414.0" y1="491.7" x2="449.0" y2="491.7" stroke="#555" stroke-width="0.8" /><line x1="414.0" y1="497.0" x2="449.0" y2="497.0" stroke="#555" stroke-width="0.8" /><line x1="430.0" y1="460.0" x2="432.0" y2="499.0" stroke="#555" stroke-width="0.6" /><line x1="350.0" y1="497.0" x2="414.0" y2="497.0" stroke="#999" stroke-width="0.8" /><line x1="351.0" y1="320.0" x2="348.0" y2="497.0" stroke="#aaa" stroke-width="0.8" stroke-dasharray="6,3"/><rect x="349.0" y="332.0" width="16.0" height="5.0" fill="#fff" stroke="#aaa" stroke-width="0.8" /><rect x="349.0" y="354.0" width="16.0" height="5.0" fill="#fff" stroke="#aaa" stroke-width="0.8" /><rect x="349.0" y="376.0" width="16.0" height="5.0" fill="#fff" stroke="#aaa" stroke-width="0.8" /><rect x="349.0" y="398.0" width="16.0" height="5.0" fill="#fff" stroke="#aaa" stroke-width="0.8" /><rect x="349.0" y="420.0" width="16.0" height="5.0" fill="#fff" stroke="#aaa" stroke-width="0.8" /><rect x="349.0" y="442.0" width="16.0" height="5.0" fill="#fff" stroke="#aaa" stroke-width="0.8" /><rect x="349.0" y="464.0" width="16.0" height="5.0" fill="#fff" stroke="#aaa" stroke-width="0.8" /><rect x="349.0" y="486.0" width="16.0" height="5.0" fill="#fff" stroke="#aaa" stroke-width="0.8" /><line x1="455.0" y1="316.0" x2="455.0" y2="344.0" stroke="#444" stroke-width="2.4" /><line x1="455.0" y1="316.0" x2="455.0" y2="344.0" stroke="#fff" stroke-width="0.7" /><line x1="456.0" y1="376.0" x2="456.0" y2="403.0" stroke="#444" stroke-width="2.4" /><line x1="456.0" y1="376.0" x2="456.0" y2="403.0" stroke="#fff" stroke-width="0.7" /><rect x="447.0" y="320.0" width="5.0" height="5.0" fill="none" stroke="#999" stroke-width="0.7" /><rect x="447.0" y="327.0" width="5.0" height="5.0" fill="none" stroke="#999" stroke-width="0.7" /><rect x="447.0" y="334.0" width="5.0" height="5.0" fill="none" stroke="#999" stroke-width="0.7" /><rect x="448.0" y="381.0" width="5.0" height="5.0" fill="none" stroke="#999" stroke-width="0.7" /><rect x="448.0" y="388.0" width="5.0" height="5.0" fill="none" stroke="#999" stroke-width="0.7" /><rect x="448.0" y="395.0" width="5.0" height="5.0" fill="none" stroke="#999" stroke-width="0.7" /><line x1="454.0" y1="211.0" x2="1058.0" y2="211.0" stroke="#555" stroke-width="0.8" /><polyline points="455,342 755,341 755,212" fill="none" stroke="#777" stroke-width="1" stroke-dasharray="5,3"/><rect x="368.0" y="567.5" width="232.0" height="7.0" fill="#fff" stroke="#666" stroke-width="0.6" /><line x1="369.0" y1="568.3" x2="374.6" y2="573.7" stroke="#333" stroke-width="1.3" /><line x1="376.7" y1="568.3" x2="382.3" y2="573.7" stroke="#333" stroke-width="1.3" /><line x1="384.4" y1="568.3" x2="390.0" y2="573.7" stroke="#333" stroke-width="1.3" /><line x1="392.1" y1="568.3" x2="397.7" y2="573.7" stroke="#333" stroke-width="1.3" /><line x1="399.8" y1="568.3" x2="405.4" y2="573.7" stroke="#333" stroke-width="1.3" /><line x1="407.5" y1="568.3" x2="413.1" y2="573.7" stroke="#333" stroke-width="1.3" /><line x1="415.2" y1="568.3" x2="420.8" y2="573.7" stroke="#333" stroke-width="1.3" /><line x1="422.9" y1="568.3" x2="428.5" y2="573.7" stroke="#333" stroke-width="1.3" /><line x1="430.6" y1="568.3" x2="436.2" y2="573.7" stroke="#333" stroke-width="1.3" /><line x1="438.3" y1="568.3" x2="443.9" y2="573.7" stroke="#333" stroke-width="1.3" /><line x1="446.0" y1="568.3" x2="451.6" y2="573.7" stroke="#333" stroke-width="1.3" /><line x1="453.7" y1="568.3" x2="459.3" y2="573.7" stroke="#333" stroke-width="1.3" /><line x1="461.4" y1="568.3" x2="467.0" y2="573.7" stroke="#333" stroke-width="1.3" /><line x1="469.1" y1="568.3" x2="474.7" y2="573.7" stroke="#333" stroke-width="1.3" /><line x1="476.8" y1="568.3" x2="482.4" y2="573.7" stroke="#333" stroke-width="1.3" /><line x1="484.5" y1="568.3" x2="490.1" y2="573.7" stroke="#333" stroke-width="1.3" /><line x1="492.2" y1="568.3" x2="497.8" y2="573.7" stroke="#333" stroke-width="1.3" /><line x1="499.9" y1="568.3" x2="505.5" y2="573.7" stroke="#333" stroke-width="1.3" /><line x1="507.6" y1="568.3" x2="513.2" y2="573.7" stroke="#333" stroke-width="1.3" /><line x1="515.3" y1="568.3" x2="520.9" y2="573.7" stroke="#333" stroke-width="1.3" /><line x1="523.0" y1="568.3" x2="528.6" y2="573.7" stroke="#333" stroke-width="1.3" /><line x1="530.7" y1="568.3" x2="536.3" y2="573.7" stroke="#333" stroke-width="1.3" /><line x1="538.4" y1="568.3" x2="544.0" y2="573.7" stroke="#333" stroke-width="1.3" /><line x1="546.1" y1="568.3" x2="551.7" y2="573.7" stroke="#333" stroke-width="1.3" /><line x1="553.8" y1="568.3" x2="559.4" y2="573.7" stroke="#333" stroke-width="1.3" /><line x1="561.5" y1="568.3" x2="567.1" y2="573.7" stroke="#333" stroke-width="1.3" /><line x1="569.2" y1="568.3" x2="574.8" y2="573.7" stroke="#333" stroke-width="1.3" /><line x1="576.9" y1="568.3" x2="582.5" y2="573.7" stroke="#333" stroke-width="1.3" /><line x1="584.6" y1="568.3" x2="590.2" y2="573.7" stroke="#333" stroke-width="1.3" /><line x1="592.3" y1="568.3" x2="597.9" y2="573.7" stroke="#333" stroke-width="1.3" /><rect x="676.0" y="567.5" width="116.0" height="7.0" fill="#fff" stroke="#666" stroke-width="0.6" /><line x1="677.0" y1="568.3" x2="682.6" y2="573.7" stroke="#333" stroke-width="1.3" /><line x1="684.7" y1="568.3" x2="690.3" y2="573.7" stroke="#333" stroke-width="1.3" /><line x1="692.4" y1="568.3" x2="698.0" y2="573.7" stroke="#333" stroke-width="1.3" /><line x1="700.1" y1="568.3" x2="705.7" y2="573.7" stroke="#333" stroke-width="1.3" /><line x1="707.8" y1="568.3" x2="713.4" y2="573.7" stroke="#333" stroke-width="1.3" /><line x1="715.5" y1="568.3" x2="721.1" y2="573.7" stroke="#333" stroke-width="1.3" /><line x1="723.2" y1="568.3" x2="728.8" y2="573.7" stroke="#333" stroke-width="1.3" /><line x1="730.9" y1="568.3" x2="736.5" y2="573.7" stroke="#333" stroke-width="1.3" /><line x1="738.6" y1="568.3" x2="744.2" y2="573.7" stroke="#333" stroke-width="1.3" /><line x1="746.3" y1="568.3" x2="751.9" y2="573.7" stroke="#333" stroke-width="1.3" /><line x1="754.0" y1="568.3" x2="759.6" y2="573.7" stroke="#333" stroke-width="1.3" /><line x1="761.7" y1="568.3" x2="767.3" y2="573.7" stroke="#333" stroke-width="1.3" /><line x1="769.4" y1="568.3" x2="775.0" y2="573.7" stroke="#333" stroke-width="1.3" /><line x1="777.1" y1="568.3" x2="782.7" y2="573.7" stroke="#333" stroke-width="1.3" /><line x1="784.8" y1="568.3" x2="790.4" y2="573.7" stroke="#333" stroke-width="1.3" /><rect x="121.0" y="518.0" width="37.0" height="7.0" fill="#fff" stroke="#333" stroke-width="0.8" /><line x1="123.0" y1="524.0" x2="126.0" y2="519.0" stroke="#333" stroke-width="0.9" /><line x1="127.2" y1="524.0" x2="130.2" y2="519.0" stroke="#333" stroke-width="0.9" /><line x1="131.4" y1="524.0" x2="134.4" y2="519.0" stroke="#333" stroke-width="0.9" /><line x1="135.6" y1="524.0" x2="138.6" y2="519.0" stroke="#333" stroke-width="0.9" /><line x1="139.8" y1="524.0" x2="142.8" y2="519.0" stroke="#333" stroke-width="0.9" /><line x1="144.0" y1="524.0" x2="147.0" y2="519.0" stroke="#333" stroke-width="0.9" /><line x1="148.2" y1="524.0" x2="151.2" y2="519.0" stroke="#333" stroke-width="0.9" /><line x1="152.4" y1="524.0" x2="155.4" y2="519.0" stroke="#333" stroke-width="0.9" /><line x1="156.6" y1="524.0" x2="159.6" y2="519.0" stroke="#333" stroke-width="0.9" /></g>
<g transform="matrix(0.97968,0.20056,-0.20056,0.97968,290.3,1574.9)"><rect x="150.0" y="-430.0" width="147.0" height="34.0" fill="#ededed" stroke="#333" stroke-width="1" /><polygon points="116,-430.5 152,-430 152,-396 134.6,-395.4" fill="#e3e3e3" stroke="#333" stroke-width="0.8"/><rect x="197.0" y="-430.0" width="36.0" height="17.0" fill="#e0e0e0" stroke="none" stroke-width="0.8" /><line x1="152.0" y1="-430.0" x2="152.0" y2="-396.0" stroke="#333" stroke-width="0.8" /><line x1="157.2" y1="-430.0" x2="157.2" y2="-396.0" stroke="#333" stroke-width="0.8" /><line x1="162.4" y1="-430.0" x2="162.4" y2="-396.0" stroke="#333" stroke-width="0.8" /><line x1="167.5" y1="-430.0" x2="167.5" y2="-396.0" stroke="#333" stroke-width="0.8" /><line x1="172.7" y1="-430.0" x2="172.7" y2="-396.0" stroke="#333" stroke-width="0.8" /><line x1="177.9" y1="-430.0" x2="177.9" y2="-396.0" stroke="#333" stroke-width="0.8" /><line x1="183.1" y1="-430.0" x2="183.1" y2="-396.0" stroke="#333" stroke-width="0.8" /><line x1="188.2" y1="-430.0" x2="188.2" y2="-396.0" stroke="#333" stroke-width="0.8" /><line x1="193.4" y1="-430.0" x2="193.4" y2="-396.0" stroke="#333" stroke-width="0.8" /><line x1="198.6" y1="-430.0" x2="198.6" y2="-396.0" stroke="#333" stroke-width="0.8" /><line x1="203.8" y1="-430.0" x2="203.8" y2="-396.0" stroke="#333" stroke-width="0.8" /><line x1="209.0" y1="-430.0" x2="209.0" y2="-396.0" stroke="#333" stroke-width="0.8" /><line x1="214.1" y1="-430.0" x2="214.1" y2="-396.0" stroke="#333" stroke-width="0.8" /><line x1="219.3" y1="-430.0" x2="219.3" y2="-396.0" stroke="#333" stroke-width="0.8" /><line x1="224.5" y1="-430.0" x2="224.5" y2="-396.0" stroke="#333" stroke-width="0.8" /><line x1="229.7" y1="-430.0" x2="229.7" y2="-396.0" stroke="#333" stroke-width="0.8" /><line x1="234.9" y1="-430.0" x2="234.9" y2="-396.0" stroke="#333" stroke-width="0.8" /><line x1="240.0" y1="-430.0" x2="240.0" y2="-396.0" stroke="#333" stroke-width="0.8" /><line x1="245.2" y1="-430.0" x2="245.2" y2="-396.0" stroke="#333" stroke-width="0.8" /><line x1="250.4" y1="-430.0" x2="250.4" y2="-396.0" stroke="#333" stroke-width="0.8" /><line x1="255.6" y1="-430.0" x2="255.6" y2="-396.0" stroke="#333" stroke-width="0.8" /><line x1="260.8" y1="-430.0" x2="260.8" y2="-396.0" stroke="#333" stroke-width="0.8" /><line x1="265.9" y1="-430.0" x2="265.9" y2="-396.0" stroke="#333" stroke-width="0.8" /><line x1="271.1" y1="-430.0" x2="271.1" y2="-396.0" stroke="#333" stroke-width="0.8" /><line x1="276.3" y1="-430.0" x2="276.3" y2="-396.0" stroke="#333" stroke-width="0.8" /><line x1="281.5" y1="-430.0" x2="281.5" y2="-396.0" stroke="#333" stroke-width="0.8" /><line x1="286.6" y1="-430.0" x2="286.6" y2="-396.0" stroke="#333" stroke-width="0.8" /><line x1="291.8" y1="-430.0" x2="291.8" y2="-396.0" stroke="#333" stroke-width="0.8" /><line x1="297.0" y1="-430.0" x2="297.0" y2="-396.0" stroke="#333" stroke-width="0.8" /><line x1="152.0" y1="-413.0" x2="297.0" y2="-413.0" stroke="#333" stroke-width="0.6" /><line x1="152.0" y1="-430.0" x2="297.0" y2="-428.0" stroke="#333" stroke-width="1.2" /><circle cx="218" cy="-340" r="8" fill="#fff" stroke="#555" stroke-width="0.8"/><line x1="218.0" y1="-340.0" x2="226.0" y2="-340.0" stroke="#555" stroke-width="0.6" /><line x1="218.0" y1="-340.0" x2="223.7" y2="-334.3" stroke="#555" stroke-width="0.6" /><line x1="218.0" y1="-340.0" x2="218.0" y2="-332.0" stroke="#555" stroke-width="0.6" /><line x1="218.0" y1="-340.0" x2="212.3" y2="-334.3" stroke="#555" stroke-width="0.6" /><line x1="218.0" y1="-340.0" x2="210.0" y2="-340.0" stroke="#555" stroke-width="0.6" /><line x1="218.0" y1="-340.0" x2="212.3" y2="-345.7" stroke="#555" stroke-width="0.6" /><line x1="218.0" y1="-340.0" x2="218.0" y2="-348.0" stroke="#555" stroke-width="0.6" /><line x1="218.0" y1="-340.0" x2="223.7" y2="-345.7" stroke="#555" stroke-width="0.6" /><circle cx="456" cy="-369" r="8" fill="#fff" stroke="#555" stroke-width="0.8"/><line x1="456.0" y1="-369.0" x2="464.0" y2="-369.0" stroke="#555" stroke-width="0.6" /><line x1="456.0" y1="-369.0" x2="461.7" y2="-363.3" stroke="#555" stroke-width="0.6" /><line x1="456.0" y1="-369.0" x2="456.0" y2="-361.0" stroke="#555" stroke-width="0.6" /><line x1="456.0" y1="-369.0" x2="450.3" y2="-363.3" stroke="#555" stroke-width="0.6" /><line x1="456.0" y1="-369.0" x2="448.0" y2="-369.0" stroke="#555" stroke-width="0.6" /><line x1="456.0" y1="-369.0" x2="450.3" y2="-374.7" stroke="#555" stroke-width="0.6" /><line x1="456.0" y1="-369.0" x2="456.0" y2="-377.0" stroke="#555" stroke-width="0.6" /><line x1="456.0" y1="-369.0" x2="461.7" y2="-374.7" stroke="#555" stroke-width="0.6" /><path d="M25.0,-329.0 h3.2 a3.6,3.6 0 0 1 0,7.2 h-3.2 z" fill="#fff" stroke="#a9a9a9" stroke-width="0.8"/><path d="M25.0,-317.7 h3.2 a3.6,3.6 0 0 1 0,7.2 h-3.2 z" fill="#fff" stroke="#a9a9a9" stroke-width="0.8"/><path d="M25.0,-306.5 h3.2 a3.6,3.6 0 0 1 0,7.2 h-3.2 z" fill="#fff" stroke="#a9a9a9" stroke-width="0.8"/><path d="M25.0,-295.2 h3.2 a3.6,3.6 0 0 1 0,7.2 h-3.2 z" fill="#fff" stroke="#a9a9a9" stroke-width="0.8"/><rect x="18.0" y="-331.0" width="7.0" height="45.0" fill="#fff" stroke="#a9a9a9" stroke-width="0.8" /><path d="M25.5,-263.0 h3.2 a3.6,3.6 0 0 1 0,7.2 h-3.2 z" fill="#fff" stroke="#a9a9a9" stroke-width="0.8"/><path d="M25.5,-251.7 h3.2 a3.6,3.6 0 0 1 0,7.2 h-3.2 z" fill="#fff" stroke="#a9a9a9" stroke-width="0.8"/><path d="M25.5,-240.5 h3.2 a3.6,3.6 0 0 1 0,7.2 h-3.2 z" fill="#fff" stroke="#a9a9a9" stroke-width="0.8"/><path d="M25.5,-229.2 h3.2 a3.6,3.6 0 0 1 0,7.2 h-3.2 z" fill="#fff" stroke="#a9a9a9" stroke-width="0.8"/><rect x="18.5" y="-265.0" width="7.0" height="45.0" fill="#fff" stroke="#a9a9a9" stroke-width="0.8" /><path d="M43.5,-329.0 h3.2 a3.6,3.6 0 0 1 0,7.2 h-3.2 z" fill="#fff" stroke="#a9a9a9" stroke-width="0.8"/><path d="M43.5,-317.7 h3.2 a3.6,3.6 0 0 1 0,7.2 h-3.2 z" fill="#fff" stroke="#a9a9a9" stroke-width="0.8"/><path d="M43.5,-306.5 h3.2 a3.6,3.6 0 0 1 0,7.2 h-3.2 z" fill="#fff" stroke="#a9a9a9" stroke-width="0.8"/><path d="M43.5,-295.2 h3.2 a3.6,3.6 0 0 1 0,7.2 h-3.2 z" fill="#fff" stroke="#a9a9a9" stroke-width="0.8"/><rect x="36.5" y="-331.0" width="7.0" height="45.0" fill="#fff" stroke="#a9a9a9" stroke-width="0.8" /><path d="M44.1,-263.0 h3.2 a3.6,3.6 0 0 1 0,7.2 h-3.2 z" fill="#fff" stroke="#a9a9a9" stroke-width="0.8"/><path d="M44.1,-251.7 h3.2 a3.6,3.6 0 0 1 0,7.2 h-3.2 z" fill="#fff" stroke="#a9a9a9" stroke-width="0.8"/><path d="M44.1,-240.5 h3.2 a3.6,3.6 0 0 1 0,7.2 h-3.2 z" fill="#fff" stroke="#a9a9a9" stroke-width="0.8"/><path d="M44.1,-229.2 h3.2 a3.6,3.6 0 0 1 0,7.2 h-3.2 z" fill="#fff" stroke="#a9a9a9" stroke-width="0.8"/><rect x="37.1" y="-265.0" width="7.0" height="45.0" fill="#fff" stroke="#a9a9a9" stroke-width="0.8" /><path d="M62.0,-329.0 h3.2 a3.6,3.6 0 0 1 0,7.2 h-3.2 z" fill="#fff" stroke="#a9a9a9" stroke-width="0.8"/><path d="M62.0,-317.7 h3.2 a3.6,3.6 0 0 1 0,7.2 h-3.2 z" fill="#fff" stroke="#a9a9a9" stroke-width="0.8"/><path d="M62.0,-306.5 h3.2 a3.6,3.6 0 0 1 0,7.2 h-3.2 z" fill="#fff" stroke="#a9a9a9" stroke-width="0.8"/><path d="M62.0,-295.2 h3.2 a3.6,3.6 0 0 1 0,7.2 h-3.2 z" fill="#fff" stroke="#a9a9a9" stroke-width="0.8"/><rect x="55.0" y="-331.0" width="7.0" height="45.0" fill="#fff" stroke="#a9a9a9" stroke-width="0.8" /><path d="M62.7,-263.0 h3.2 a3.6,3.6 0 0 1 0,7.2 h-3.2 z" fill="#fff" stroke="#a9a9a9" stroke-width="0.8"/><path d="M62.7,-251.7 h3.2 a3.6,3.6 0 0 1 0,7.2 h-3.2 z" fill="#fff" stroke="#a9a9a9" stroke-width="0.8"/><path d="M62.7,-240.5 h3.2 a3.6,3.6 0 0 1 0,7.2 h-3.2 z" fill="#fff" stroke="#a9a9a9" stroke-width="0.8"/><path d="M62.7,-229.2 h3.2 a3.6,3.6 0 0 1 0,7.2 h-3.2 z" fill="#fff" stroke="#a9a9a9" stroke-width="0.8"/><rect x="55.7" y="-265.0" width="7.0" height="45.0" fill="#fff" stroke="#a9a9a9" stroke-width="0.8" /><path d="M80.5,-329.0 h3.2 a3.6,3.6 0 0 1 0,7.2 h-3.2 z" fill="#fff" stroke="#a9a9a9" stroke-width="0.8"/><path d="M80.5,-317.7 h3.2 a3.6,3.6 0 0 1 0,7.2 h-3.2 z" fill="#fff" stroke="#a9a9a9" stroke-width="0.8"/><path d="M80.5,-306.5 h3.2 a3.6,3.6 0 0 1 0,7.2 h-3.2 z" fill="#fff" stroke="#a9a9a9" stroke-width="0.8"/><path d="M80.5,-295.2 h3.2 a3.6,3.6 0 0 1 0,7.2 h-3.2 z" fill="#fff" stroke="#a9a9a9" stroke-width="0.8"/><rect x="73.5" y="-331.0" width="7.0" height="45.0" fill="#fff" stroke="#a9a9a9" stroke-width="0.8" /><path d="M81.3,-263.0 h3.2 a3.6,3.6 0 0 1 0,7.2 h-3.2 z" fill="#fff" stroke="#a9a9a9" stroke-width="0.8"/><path d="M81.3,-251.7 h3.2 a3.6,3.6 0 0 1 0,7.2 h-3.2 z" fill="#fff" stroke="#a9a9a9" stroke-width="0.8"/><path d="M81.3,-240.5 h3.2 a3.6,3.6 0 0 1 0,7.2 h-3.2 z" fill="#fff" stroke="#a9a9a9" stroke-width="0.8"/><path d="M81.3,-229.2 h3.2 a3.6,3.6 0 0 1 0,7.2 h-3.2 z" fill="#fff" stroke="#a9a9a9" stroke-width="0.8"/><rect x="74.3" y="-265.0" width="7.0" height="45.0" fill="#fff" stroke="#a9a9a9" stroke-width="0.8" /><path d="M99.0,-329.0 h3.2 a3.6,3.6 0 0 1 0,7.2 h-3.2 z" fill="#fff" stroke="#a9a9a9" stroke-width="0.8"/><path d="M99.0,-317.7 h3.2 a3.6,3.6 0 0 1 0,7.2 h-3.2 z" fill="#fff" stroke="#a9a9a9" stroke-width="0.8"/><path d="M99.0,-306.5 h3.2 a3.6,3.6 0 0 1 0,7.2 h-3.2 z" fill="#fff" stroke="#a9a9a9" stroke-width="0.8"/><path d="M99.0,-295.2 h3.2 a3.6,3.6 0 0 1 0,7.2 h-3.2 z" fill="#fff" stroke="#a9a9a9" stroke-width="0.8"/><rect x="92.0" y="-331.0" width="7.0" height="45.0" fill="#fff" stroke="#a9a9a9" stroke-width="0.8" /><path d="M99.9,-263.0 h3.2 a3.6,3.6 0 0 1 0,7.2 h-3.2 z" fill="#fff" stroke="#a9a9a9" stroke-width="0.8"/><path d="M99.9,-251.7 h3.2 a3.6,3.6 0 0 1 0,7.2 h-3.2 z" fill="#fff" stroke="#a9a9a9" stroke-width="0.8"/><path d="M99.9,-240.5 h3.2 a3.6,3.6 0 0 1 0,7.2 h-3.2 z" fill="#fff" stroke="#a9a9a9" stroke-width="0.8"/><path d="M99.9,-229.2 h3.2 a3.6,3.6 0 0 1 0,7.2 h-3.2 z" fill="#fff" stroke="#a9a9a9" stroke-width="0.8"/><rect x="92.9" y="-265.0" width="7.0" height="45.0" fill="#fff" stroke="#a9a9a9" stroke-width="0.8" /><path d="M117.5,-329.0 h3.2 a3.6,3.6 0 0 1 0,7.2 h-3.2 z" fill="#fff" stroke="#a9a9a9" stroke-width="0.8"/><path d="M117.5,-317.7 h3.2 a3.6,3.6 0 0 1 0,7.2 h-3.2 z" fill="#fff" stroke="#a9a9a9" stroke-width="0.8"/><path d="M117.5,-306.5 h3.2 a3.6,3.6 0 0 1 0,7.2 h-3.2 z" fill="#fff" stroke="#a9a9a9" stroke-width="0.8"/><path d="M117.5,-295.2 h3.2 a3.6,3.6 0 0 1 0,7.2 h-3.2 z" fill="#fff" stroke="#a9a9a9" stroke-width="0.8"/><rect x="110.5" y="-331.0" width="7.0" height="45.0" fill="#fff" stroke="#a9a9a9" stroke-width="0.8" /><path d="M118.5,-263.0 h3.2 a3.6,3.6 0 0 1 0,7.2 h-3.2 z" fill="#fff" stroke="#a9a9a9" stroke-width="0.8"/><path d="M118.5,-251.7 h3.2 a3.6,3.6 0 0 1 0,7.2 h-3.2 z" fill="#fff" stroke="#a9a9a9" stroke-width="0.8"/><path d="M118.5,-240.5 h3.2 a3.6,3.6 0 0 1 0,7.2 h-3.2 z" fill="#fff" stroke="#a9a9a9" stroke-width="0.8"/><path d="M118.5,-229.2 h3.2 a3.6,3.6 0 0 1 0,7.2 h-3.2 z" fill="#fff" stroke="#a9a9a9" stroke-width="0.8"/><rect x="111.5" y="-265.0" width="7.0" height="45.0" fill="#fff" stroke="#a9a9a9" stroke-width="0.8" /><path d="M136.0,-329.0 h3.2 a3.6,3.6 0 0 1 0,7.2 h-3.2 z" fill="#fff" stroke="#a9a9a9" stroke-width="0.8"/><path d="M136.0,-317.7 h3.2 a3.6,3.6 0 0 1 0,7.2 h-3.2 z" fill="#fff" stroke="#a9a9a9" stroke-width="0.8"/><path d="M136.0,-306.5 h3.2 a3.6,3.6 0 0 1 0,7.2 h-3.2 z" fill="#fff" stroke="#a9a9a9" stroke-width="0.8"/><path d="M136.0,-295.2 h3.2 a3.6,3.6 0 0 1 0,7.2 h-3.2 z" fill="#fff" stroke="#a9a9a9" stroke-width="0.8"/><rect x="129.0" y="-331.0" width="7.0" height="45.0" fill="#fff" stroke="#a9a9a9" stroke-width="0.8" /><path d="M137.1,-263.0 h3.2 a3.6,3.6 0 0 1 0,7.2 h-3.2 z" fill="#fff" stroke="#a9a9a9" stroke-width="0.8"/><path d="M137.1,-251.7 h3.2 a3.6,3.6 0 0 1 0,7.2 h-3.2 z" fill="#fff" stroke="#a9a9a9" stroke-width="0.8"/><path d="M137.1,-240.5 h3.2 a3.6,3.6 0 0 1 0,7.2 h-3.2 z" fill="#fff" stroke="#a9a9a9" stroke-width="0.8"/><path d="M137.1,-229.2 h3.2 a3.6,3.6 0 0 1 0,7.2 h-3.2 z" fill="#fff" stroke="#a9a9a9" stroke-width="0.8"/><rect x="130.1" y="-265.0" width="7.0" height="45.0" fill="#fff" stroke="#a9a9a9" stroke-width="0.8" /><path d="M154.5,-329.0 h3.2 a3.6,3.6 0 0 1 0,7.2 h-3.2 z" fill="#fff" stroke="#a9a9a9" stroke-width="0.8"/><path d="M154.5,-317.7 h3.2 a3.6,3.6 0 0 1 0,7.2 h-3.2 z" fill="#fff" stroke="#a9a9a9" stroke-width="0.8"/><path d="M154.5,-306.5 h3.2 a3.6,3.6 0 0 1 0,7.2 h-3.2 z" fill="#fff" stroke="#a9a9a9" stroke-width="0.8"/><path d="M154.5,-295.2 h3.2 a3.6,3.6 0 0 1 0,7.2 h-3.2 z" fill="#fff" stroke="#a9a9a9" stroke-width="0.8"/><rect x="147.5" y="-331.0" width="7.0" height="45.0" fill="#fff" stroke="#a9a9a9" stroke-width="0.8" /><path d="M155.7,-263.0 h3.2 a3.6,3.6 0 0 1 0,7.2 h-3.2 z" fill="#fff" stroke="#a9a9a9" stroke-width="0.8"/><path d="M155.7,-251.7 h3.2 a3.6,3.6 0 0 1 0,7.2 h-3.2 z" fill="#fff" stroke="#a9a9a9" stroke-width="0.8"/><path d="M155.7,-240.5 h3.2 a3.6,3.6 0 0 1 0,7.2 h-3.2 z" fill="#fff" stroke="#a9a9a9" stroke-width="0.8"/><path d="M155.7,-229.2 h3.2 a3.6,3.6 0 0 1 0,7.2 h-3.2 z" fill="#fff" stroke="#a9a9a9" stroke-width="0.8"/><rect x="148.7" y="-265.0" width="7.0" height="45.0" fill="#fff" stroke="#a9a9a9" stroke-width="0.8" /><path d="M173.0,-329.0 h3.2 a3.6,3.6 0 0 1 0,7.2 h-3.2 z" fill="#fff" stroke="#a9a9a9" stroke-width="0.8"/><path d="M173.0,-317.7 h3.2 a3.6,3.6 0 0 1 0,7.2 h-3.2 z" fill="#fff" stroke="#a9a9a9" stroke-width="0.8"/><path d="M173.0,-306.5 h3.2 a3.6,3.6 0 0 1 0,7.2 h-3.2 z" fill="#fff" stroke="#a9a9a9" stroke-width="0.8"/><path d="M173.0,-295.2 h3.2 a3.6,3.6 0 0 1 0,7.2 h-3.2 z" fill="#fff" stroke="#a9a9a9" stroke-width="0.8"/><rect x="166.0" y="-331.0" width="7.0" height="45.0" fill="#fff" stroke="#a9a9a9" stroke-width="0.8" /><path d="M174.3,-263.0 h3.2 a3.6,3.6 0 0 1 0,7.2 h-3.2 z" fill="#fff" stroke="#a9a9a9" stroke-width="0.8"/><path d="M174.3,-251.7 h3.2 a3.6,3.6 0 0 1 0,7.2 h-3.2 z" fill="#fff" stroke="#a9a9a9" stroke-width="0.8"/><path d="M174.3,-240.5 h3.2 a3.6,3.6 0 0 1 0,7.2 h-3.2 z" fill="#fff" stroke="#a9a9a9" stroke-width="0.8"/><path d="M174.3,-229.2 h3.2 a3.6,3.6 0 0 1 0,7.2 h-3.2 z" fill="#fff" stroke="#a9a9a9" stroke-width="0.8"/><rect x="167.3" y="-265.0" width="7.0" height="45.0" fill="#fff" stroke="#a9a9a9" stroke-width="0.8" /><path d="M501.2,-354.4 h-3.4 a4,4 0 0 0 0,8 h3.4 z" fill="#fff" stroke="#a9a9a9" stroke-width="0.8"/><path d="M501.2,-342.4 h-3.4 a4,4 0 0 0 0,8 h3.4 z" fill="#fff" stroke="#a9a9a9" stroke-width="0.8"/><path d="M501.2,-330.4 h-3.4 a4,4 0 0 0 0,8 h3.4 z" fill="#fff" stroke="#a9a9a9" stroke-width="0.8"/><path d="M501.2,-318.5 h-3.4 a4,4 0 0 0 0,8 h3.4 z" fill="#fff" stroke="#a9a9a9" stroke-width="0.8"/><path d="M501.2,-306.5 h-3.4 a4,4 0 0 0 0,8 h3.4 z" fill="#fff" stroke="#a9a9a9" stroke-width="0.8"/><rect x="501.2" y="-356.4" width="7.6" height="59.9" fill="#fff" stroke="#a9a9a9" stroke-width="0.8" /><path d="M502.7,-264.1 h-3.4 a4,4 0 0 0 0,8 h3.4 z" fill="#fff" stroke="#a9a9a9" stroke-width="0.8"/><path d="M502.7,-252.4 h-3.4 a4,4 0 0 0 0,8 h3.4 z" fill="#fff" stroke="#a9a9a9" stroke-width="0.8"/><path d="M502.7,-240.7 h-3.4 a4,4 0 0 0 0,8 h3.4 z" fill="#fff" stroke="#a9a9a9" stroke-width="0.8"/><path d="M502.7,-229.0 h-3.4 a4,4 0 0 0 0,8 h3.4 z" fill="#fff" stroke="#a9a9a9" stroke-width="0.8"/><path d="M502.7,-217.3 h-3.4 a4,4 0 0 0 0,8 h3.4 z" fill="#fff" stroke="#a9a9a9" stroke-width="0.8"/><rect x="502.7" y="-266.0" width="7.6" height="58.6" fill="#fff" stroke="#a9a9a9" stroke-width="0.8" /><path d="M520.1,-357.5 h-3.4 a4,4 0 0 0 0,8 h3.4 z" fill="#fff" stroke="#a9a9a9" stroke-width="0.8"/><path d="M520.1,-347.2 h-3.4 a4,4 0 0 0 0,8 h3.4 z" fill="#fff" stroke="#a9a9a9" stroke-width="0.8"/><path d="M520.1,-336.8 h-3.4 a4,4 0 0 0 0,8 h3.4 z" fill="#fff" stroke="#a9a9a9" stroke-width="0.8"/><path d="M520.1,-326.4 h-3.4 a4,4 0 0 0 0,8 h3.4 z" fill="#fff" stroke="#a9a9a9" stroke-width="0.8"/><path d="M520.1,-316.1 h-3.4 a4,4 0 0 0 0,8 h3.4 z" fill="#fff" stroke="#a9a9a9" stroke-width="0.8"/><path d="M520.1,-305.7 h-3.4 a4,4 0 0 0 0,8 h3.4 z" fill="#fff" stroke="#a9a9a9" stroke-width="0.8"/><rect x="520.1" y="-358.7" width="7.6" height="62.2" fill="#fff" stroke="#a9a9a9" stroke-width="0.8" /><path d="M521.3,-264.6 h-3.4 a4,4 0 0 0 0,8 h3.4 z" fill="#fff" stroke="#a9a9a9" stroke-width="0.8"/><path d="M521.3,-252.4 h-3.4 a4,4 0 0 0 0,8 h3.4 z" fill="#fff" stroke="#a9a9a9" stroke-width="0.8"/><path d="M521.3,-240.2 h-3.4 a4,4 0 0 0 0,8 h3.4 z" fill="#fff" stroke="#a9a9a9" stroke-width="0.8"/><path d="M521.3,-227.9 h-3.4 a4,4 0 0 0 0,8 h3.4 z" fill="#fff" stroke="#a9a9a9" stroke-width="0.8"/><path d="M521.3,-215.7 h-3.4 a4,4 0 0 0 0,8 h3.4 z" fill="#fff" stroke="#a9a9a9" stroke-width="0.8"/><rect x="521.3" y="-266.7" width="7.6" height="61.1" fill="#fff" stroke="#a9a9a9" stroke-width="0.8" /><path d="M539.0,-359.7 h-3.4 a4,4 0 0 0 0,8 h3.4 z" fill="#fff" stroke="#a9a9a9" stroke-width="0.8"/><path d="M539.0,-348.9 h-3.4 a4,4 0 0 0 0,8 h3.4 z" fill="#fff" stroke="#a9a9a9" stroke-width="0.8"/><path d="M539.0,-338.2 h-3.4 a4,4 0 0 0 0,8 h3.4 z" fill="#fff" stroke="#a9a9a9" stroke-width="0.8"/><path d="M539.0,-327.4 h-3.4 a4,4 0 0 0 0,8 h3.4 z" fill="#fff" stroke="#a9a9a9" stroke-width="0.8"/><path d="M539.0,-316.6 h-3.4 a4,4 0 0 0 0,8 h3.4 z" fill="#fff" stroke="#a9a9a9" stroke-width="0.8"/><path d="M539.0,-305.9 h-3.4 a4,4 0 0 0 0,8 h3.4 z" fill="#fff" stroke="#a9a9a9" stroke-width="0.8"/><rect x="539.0" y="-361.1" width="7.6" height="64.6" fill="#fff" stroke="#a9a9a9" stroke-width="0.8" /><path d="M539.9,-266.2 h-3.4 a4,4 0 0 0 0,8 h3.4 z" fill="#fff" stroke="#a9a9a9" stroke-width="0.8"/><path d="M539.9,-255.5 h-3.4 a4,4 0 0 0 0,8 h3.4 z" fill="#fff" stroke="#a9a9a9" stroke-width="0.8"/><path d="M539.9,-244.9 h-3.4 a4,4 0 0 0 0,8 h3.4 z" fill="#fff" stroke="#a9a9a9" stroke-width="0.8"/><path d="M539.9,-234.3 h-3.4 a4,4 0 0 0 0,8 h3.4 z" fill="#fff" stroke="#a9a9a9" stroke-width="0.8"/><path d="M539.9,-223.7 h-3.4 a4,4 0 0 0 0,8 h3.4 z" fill="#fff" stroke="#a9a9a9" stroke-width="0.8"/><path d="M539.9,-213.1 h-3.4 a4,4 0 0 0 0,8 h3.4 z" fill="#fff" stroke="#a9a9a9" stroke-width="0.8"/><rect x="539.9" y="-267.5" width="7.6" height="63.6" fill="#fff" stroke="#a9a9a9" stroke-width="0.8" /><path d="M557.9,-361.8 h-3.4 a4,4 0 0 0 0,8 h3.4 z" fill="#fff" stroke="#a9a9a9" stroke-width="0.8"/><path d="M557.9,-350.7 h-3.4 a4,4 0 0 0 0,8 h3.4 z" fill="#fff" stroke="#a9a9a9" stroke-width="0.8"/><path d="M557.9,-339.5 h-3.4 a4,4 0 0 0 0,8 h3.4 z" fill="#fff" stroke="#a9a9a9" stroke-width="0.8"/><path d="M557.9,-328.4 h-3.4 a4,4 0 0 0 0,8 h3.4 z" fill="#fff" stroke="#a9a9a9" stroke-width="0.8"/><path d="M557.9,-317.2 h-3.4 a4,4 0 0 0 0,8 h3.4 z" fill="#fff" stroke="#a9a9a9" stroke-width="0.8"/><path d="M557.9,-306.1 h-3.4 a4,4 0 0 0 0,8 h3.4 z" fill="#fff" stroke="#a9a9a9" stroke-width="0.8"/><rect x="557.9" y="-363.4" width="7.6" height="66.9" fill="#fff" stroke="#a9a9a9" stroke-width="0.8" /><path d="M558.5,-266.7 h-3.4 a4,4 0 0 0 0,8 h3.4 z" fill="#fff" stroke="#a9a9a9" stroke-width="0.8"/><path d="M558.5,-255.6 h-3.4 a4,4 0 0 0 0,8 h3.4 z" fill="#fff" stroke="#a9a9a9" stroke-width="0.8"/><path d="M558.5,-244.6 h-3.4 a4,4 0 0 0 0,8 h3.4 z" fill="#fff" stroke="#a9a9a9" stroke-width="0.8"/><path d="M558.5,-233.6 h-3.4 a4,4 0 0 0 0,8 h3.4 z" fill="#fff" stroke="#a9a9a9" stroke-width="0.8"/><path d="M558.5,-222.6 h-3.4 a4,4 0 0 0 0,8 h3.4 z" fill="#fff" stroke="#a9a9a9" stroke-width="0.8"/><path d="M558.5,-211.5 h-3.4 a4,4 0 0 0 0,8 h3.4 z" fill="#fff" stroke="#a9a9a9" stroke-width="0.8"/><rect x="558.5" y="-268.2" width="7.6" height="66.2" fill="#fff" stroke="#a9a9a9" stroke-width="0.8" /><path d="M576.8,-364.0 h-3.4 a4,4 0 0 0 0,8 h3.4 z" fill="#fff" stroke="#a9a9a9" stroke-width="0.8"/><path d="M576.8,-352.4 h-3.4 a4,4 0 0 0 0,8 h3.4 z" fill="#fff" stroke="#a9a9a9" stroke-width="0.8"/><path d="M576.8,-340.9 h-3.4 a4,4 0 0 0 0,8 h3.4 z" fill="#fff" stroke="#a9a9a9" stroke-width="0.8"/><path d="M576.8,-329.4 h-3.4 a4,4 0 0 0 0,8 h3.4 z" fill="#fff" stroke="#a9a9a9" stroke-width="0.8"/><path d="M576.8,-317.8 h-3.4 a4,4 0 0 0 0,8 h3.4 z" fill="#fff" stroke="#a9a9a9" stroke-width="0.8"/><path d="M576.8,-306.3 h-3.4 a4,4 0 0 0 0,8 h3.4 z" fill="#fff" stroke="#a9a9a9" stroke-width="0.8"/><rect x="576.8" y="-365.7" width="7.6" height="69.2" fill="#fff" stroke="#a9a9a9" stroke-width="0.8" /><path d="M577.1,-267.2 h-3.4 a4,4 0 0 0 0,8 h3.4 z" fill="#fff" stroke="#a9a9a9" stroke-width="0.8"/><path d="M577.1,-255.7 h-3.4 a4,4 0 0 0 0,8 h3.4 z" fill="#fff" stroke="#a9a9a9" stroke-width="0.8"/><path d="M577.1,-244.3 h-3.4 a4,4 0 0 0 0,8 h3.4 z" fill="#fff" stroke="#a9a9a9" stroke-width="0.8"/><path d="M577.1,-232.9 h-3.4 a4,4 0 0 0 0,8 h3.4 z" fill="#fff" stroke="#a9a9a9" stroke-width="0.8"/><path d="M577.1,-221.4 h-3.4 a4,4 0 0 0 0,8 h3.4 z" fill="#fff" stroke="#a9a9a9" stroke-width="0.8"/><path d="M577.1,-210.0 h-3.4 a4,4 0 0 0 0,8 h3.4 z" fill="#fff" stroke="#a9a9a9" stroke-width="0.8"/><rect x="577.1" y="-268.9" width="7.6" height="68.7" fill="#fff" stroke="#a9a9a9" stroke-width="0.8" /><path d="M595.7,-366.1 h-3.4 a4,4 0 0 0 0,8 h3.4 z" fill="#fff" stroke="#a9a9a9" stroke-width="0.8"/><path d="M595.7,-354.2 h-3.4 a4,4 0 0 0 0,8 h3.4 z" fill="#fff" stroke="#a9a9a9" stroke-width="0.8"/><path d="M595.7,-342.3 h-3.4 a4,4 0 0 0 0,8 h3.4 z" fill="#fff" stroke="#a9a9a9" stroke-width="0.8"/><path d="M595.7,-330.3 h-3.4 a4,4 0 0 0 0,8 h3.4 z" fill="#fff" stroke="#a9a9a9" stroke-width="0.8"/><path d="M595.7,-318.4 h-3.4 a4,4 0 0 0 0,8 h3.4 z" fill="#fff" stroke="#a9a9a9" stroke-width="0.8"/><path d="M595.7,-306.5 h-3.4 a4,4 0 0 0 0,8 h3.4 z" fill="#fff" stroke="#a9a9a9" stroke-width="0.8"/><rect x="595.7" y="-368.1" width="7.6" height="71.6" fill="#fff" stroke="#a9a9a9" stroke-width="0.8" /><path d="M595.7,-267.7 h-3.4 a4,4 0 0 0 0,8 h3.4 z" fill="#fff" stroke="#a9a9a9" stroke-width="0.8"/><path d="M595.7,-255.8 h-3.4 a4,4 0 0 0 0,8 h3.4 z" fill="#fff" stroke="#a9a9a9" stroke-width="0.8"/><path d="M595.7,-244.0 h-3.4 a4,4 0 0 0 0,8 h3.4 z" fill="#fff" stroke="#a9a9a9" stroke-width="0.8"/><path d="M595.7,-232.1 h-3.4 a4,4 0 0 0 0,8 h3.4 z" fill="#fff" stroke="#a9a9a9" stroke-width="0.8"/><path d="M595.7,-220.2 h-3.4 a4,4 0 0 0 0,8 h3.4 z" fill="#fff" stroke="#a9a9a9" stroke-width="0.8"/><path d="M595.7,-208.4 h-3.4 a4,4 0 0 0 0,8 h3.4 z" fill="#fff" stroke="#a9a9a9" stroke-width="0.8"/><rect x="595.7" y="-269.6" width="7.6" height="71.2" fill="#fff" stroke="#a9a9a9" stroke-width="0.8" /><path d="M614.6,-369.1 h-3.4 a4,4 0 0 0 0,8 h3.4 z" fill="#fff" stroke="#a9a9a9" stroke-width="0.8"/><path d="M614.6,-358.6 h-3.4 a4,4 0 0 0 0,8 h3.4 z" fill="#fff" stroke="#a9a9a9" stroke-width="0.8"/><path d="M614.6,-348.0 h-3.4 a4,4 0 0 0 0,8 h3.4 z" fill="#fff" stroke="#a9a9a9" stroke-width="0.8"/><path d="M614.6,-337.5 h-3.4 a4,4 0 0 0 0,8 h3.4 z" fill="#fff" stroke="#a9a9a9" stroke-width="0.8"/><path d="M614.6,-326.9 h-3.4 a4,4 0 0 0 0,8 h3.4 z" fill="#fff" stroke="#a9a9a9" stroke-width="0.8"/><path d="M614.6,-316.3 h-3.4 a4,4 0 0 0 0,8 h3.4 z" fill="#fff" stroke="#a9a9a9" stroke-width="0.8"/><path d="M614.6,-305.8 h-3.4 a4,4 0 0 0 0,8 h3.4 z" fill="#fff" stroke="#a9a9a9" stroke-width="0.8"/><rect x="614.6" y="-370.4" width="7.6" height="73.9" fill="#fff" stroke="#a9a9a9" stroke-width="0.8" /><path d="M614.3,-269.1 h-3.4 a4,4 0 0 0 0,8 h3.4 z" fill="#fff" stroke="#a9a9a9" stroke-width="0.8"/><path d="M614.3,-258.6 h-3.4 a4,4 0 0 0 0,8 h3.4 z" fill="#fff" stroke="#a9a9a9" stroke-width="0.8"/><path d="M614.3,-248.0 h-3.4 a4,4 0 0 0 0,8 h3.4 z" fill="#fff" stroke="#a9a9a9" stroke-width="0.8"/><path d="M614.3,-237.5 h-3.4 a4,4 0 0 0 0,8 h3.4 z" fill="#fff" stroke="#a9a9a9" stroke-width="0.8"/><path d="M614.3,-227.0 h-3.4 a4,4 0 0 0 0,8 h3.4 z" fill="#fff" stroke="#a9a9a9" stroke-width="0.8"/><path d="M614.3,-216.4 h-3.4 a4,4 0 0 0 0,8 h3.4 z" fill="#fff" stroke="#a9a9a9" stroke-width="0.8"/><path d="M614.3,-205.9 h-3.4 a4,4 0 0 0 0,8 h3.4 z" fill="#fff" stroke="#a9a9a9" stroke-width="0.8"/><rect x="614.3" y="-270.4" width="7.6" height="73.7" fill="#fff" stroke="#a9a9a9" stroke-width="0.8" /><path d="M633.5,-371.3 h-3.4 a4,4 0 0 0 0,8 h3.4 z" fill="#fff" stroke="#a9a9a9" stroke-width="0.8"/><path d="M633.5,-360.4 h-3.4 a4,4 0 0 0 0,8 h3.4 z" fill="#fff" stroke="#a9a9a9" stroke-width="0.8"/><path d="M633.5,-349.5 h-3.4 a4,4 0 0 0 0,8 h3.4 z" fill="#fff" stroke="#a9a9a9" stroke-width="0.8"/><path d="M633.5,-338.6 h-3.4 a4,4 0 0 0 0,8 h3.4 z" fill="#fff" stroke="#a9a9a9" stroke-width="0.8"/><path d="M633.5,-327.7 h-3.4 a4,4 0 0 0 0,8 h3.4 z" fill="#fff" stroke="#a9a9a9" stroke-width="0.8"/><path d="M633.5,-316.8 h-3.4 a4,4 0 0 0 0,8 h3.4 z" fill="#fff" stroke="#a9a9a9" stroke-width="0.8"/><path d="M633.5,-305.9 h-3.4 a4,4 0 0 0 0,8 h3.4 z" fill="#fff" stroke="#a9a9a9" stroke-width="0.8"/><rect x="633.5" y="-372.8" width="7.6" height="76.3" fill="#fff" stroke="#a9a9a9" stroke-width="0.8" /><path d="M632.9,-269.6 h-3.4 a4,4 0 0 0 0,8 h3.4 z" fill="#fff" stroke="#a9a9a9" stroke-width="0.8"/><path d="M632.9,-258.8 h-3.4 a4,4 0 0 0 0,8 h3.4 z" fill="#fff" stroke="#a9a9a9" stroke-width="0.8"/><path d="M632.9,-247.9 h-3.4 a4,4 0 0 0 0,8 h3.4 z" fill="#fff" stroke="#a9a9a9" stroke-width="0.8"/><path d="M632.9,-237.0 h-3.4 a4,4 0 0 0 0,8 h3.4 z" fill="#fff" stroke="#a9a9a9" stroke-width="0.8"/><path d="M632.9,-226.1 h-3.4 a4,4 0 0 0 0,8 h3.4 z" fill="#fff" stroke="#a9a9a9" stroke-width="0.8"/><path d="M632.9,-215.2 h-3.4 a4,4 0 0 0 0,8 h3.4 z" fill="#fff" stroke="#a9a9a9" stroke-width="0.8"/><path d="M632.9,-204.3 h-3.4 a4,4 0 0 0 0,8 h3.4 z" fill="#fff" stroke="#a9a9a9" stroke-width="0.8"/><rect x="632.9" y="-271.1" width="7.6" height="76.2" fill="#fff" stroke="#a9a9a9" stroke-width="0.8" /><path d="M652.4,-373.5 h-3.4 a4,4 0 0 0 0,8 h3.4 z" fill="#fff" stroke="#a9a9a9" stroke-width="0.8"/><path d="M652.4,-362.2 h-3.4 a4,4 0 0 0 0,8 h3.4 z" fill="#fff" stroke="#a9a9a9" stroke-width="0.8"/><path d="M652.4,-351.0 h-3.4 a4,4 0 0 0 0,8 h3.4 z" fill="#fff" stroke="#a9a9a9" stroke-width="0.8"/><path d="M652.4,-339.8 h-3.4 a4,4 0 0 0 0,8 h3.4 z" fill="#fff" stroke="#a9a9a9" stroke-width="0.8"/><path d="M652.4,-328.6 h-3.4 a4,4 0 0 0 0,8 h3.4 z" fill="#fff" stroke="#a9a9a9" stroke-width="0.8"/><path d="M652.4,-317.3 h-3.4 a4,4 0 0 0 0,8 h3.4 z" fill="#fff" stroke="#a9a9a9" stroke-width="0.8"/><path d="M652.4,-306.1 h-3.4 a4,4 0 0 0 0,8 h3.4 z" fill="#fff" stroke="#a9a9a9" stroke-width="0.8"/><rect x="652.4" y="-375.1" width="7.6" height="78.6" fill="#fff" stroke="#a9a9a9" stroke-width="0.8" /><path d="M651.5,-270.2 h-3.4 a4,4 0 0 0 0,8 h3.4 z" fill="#fff" stroke="#a9a9a9" stroke-width="0.8"/><path d="M651.5,-258.9 h-3.4 a4,4 0 0 0 0,8 h3.4 z" fill="#fff" stroke="#a9a9a9" stroke-width="0.8"/><path d="M651.5,-247.7 h-3.4 a4,4 0 0 0 0,8 h3.4 z" fill="#fff" stroke="#a9a9a9" stroke-width="0.8"/><path d="M651.5,-236.4 h-3.4 a4,4 0 0 0 0,8 h3.4 z" fill="#fff" stroke="#a9a9a9" stroke-width="0.8"/><path d="M651.5,-225.2 h-3.4 a4,4 0 0 0 0,8 h3.4 z" fill="#fff" stroke="#a9a9a9" stroke-width="0.8"/><path d="M651.5,-213.9 h-3.4 a4,4 0 0 0 0,8 h3.4 z" fill="#fff" stroke="#a9a9a9" stroke-width="0.8"/><path d="M651.5,-202.7 h-3.4 a4,4 0 0 0 0,8 h3.4 z" fill="#fff" stroke="#a9a9a9" stroke-width="0.8"/><rect x="651.5" y="-271.8" width="7.6" height="78.7" fill="#fff" stroke="#a9a9a9" stroke-width="0.8" /><path d="M671.3,-375.6 h-3.4 a4,4 0 0 0 0,8 h3.4 z" fill="#fff" stroke="#a9a9a9" stroke-width="0.8"/><path d="M671.3,-364.1 h-3.4 a4,4 0 0 0 0,8 h3.4 z" fill="#fff" stroke="#a9a9a9" stroke-width="0.8"/><path d="M671.3,-352.5 h-3.4 a4,4 0 0 0 0,8 h3.4 z" fill="#fff" stroke="#a9a9a9" stroke-width="0.8"/><path d="M671.3,-341.0 h-3.4 a4,4 0 0 0 0,8 h3.4 z" fill="#fff" stroke="#a9a9a9" stroke-width="0.8"/><path d="M671.3,-329.4 h-3.4 a4,4 0 0 0 0,8 h3.4 z" fill="#fff" stroke="#a9a9a9" stroke-width="0.8"/><path d="M671.3,-317.8 h-3.4 a4,4 0 0 0 0,8 h3.4 z" fill="#fff" stroke="#a9a9a9" stroke-width="0.8"/><path d="M671.3,-306.3 h-3.4 a4,4 0 0 0 0,8 h3.4 z" fill="#fff" stroke="#a9a9a9" stroke-width="0.8"/><rect x="671.3" y="-377.4" width="7.6" height="80.9" fill="#fff" stroke="#a9a9a9" stroke-width="0.8" /><path d="M670.1,-270.7 h-3.4 a4,4 0 0 0 0,8 h3.4 z" fill="#fff" stroke="#a9a9a9" stroke-width="0.8"/><path d="M670.1,-259.1 h-3.4 a4,4 0 0 0 0,8 h3.4 z" fill="#fff" stroke="#a9a9a9" stroke-width="0.8"/><path d="M670.1,-247.5 h-3.4 a4,4 0 0 0 0,8 h3.4 z" fill="#fff" stroke="#a9a9a9" stroke-width="0.8"/><path d="M670.1,-235.9 h-3.4 a4,4 0 0 0 0,8 h3.4 z" fill="#fff" stroke="#a9a9a9" stroke-width="0.8"/><path d="M670.1,-224.3 h-3.4 a4,4 0 0 0 0,8 h3.4 z" fill="#fff" stroke="#a9a9a9" stroke-width="0.8"/><path d="M670.1,-212.7 h-3.4 a4,4 0 0 0 0,8 h3.4 z" fill="#fff" stroke="#a9a9a9" stroke-width="0.8"/><path d="M670.1,-201.1 h-3.4 a4,4 0 0 0 0,8 h3.4 z" fill="#fff" stroke="#a9a9a9" stroke-width="0.8"/><rect x="670.1" y="-272.5" width="7.6" height="81.3" fill="#fff" stroke="#a9a9a9" stroke-width="0.8" /><path d="M690.2,-377.8 h-3.4 a4,4 0 0 0 0,8 h3.4 z" fill="#fff" stroke="#a9a9a9" stroke-width="0.8"/><path d="M690.2,-365.9 h-3.4 a4,4 0 0 0 0,8 h3.4 z" fill="#fff" stroke="#a9a9a9" stroke-width="0.8"/><path d="M690.2,-354.0 h-3.4 a4,4 0 0 0 0,8 h3.4 z" fill="#fff" stroke="#a9a9a9" stroke-width="0.8"/><path d="M690.2,-342.1 h-3.4 a4,4 0 0 0 0,8 h3.4 z" fill="#fff" stroke="#a9a9a9" stroke-width="0.8"/><path d="M690.2,-330.2 h-3.4 a4,4 0 0 0 0,8 h3.4 z" fill="#fff" stroke="#a9a9a9" stroke-width="0.8"/><path d="M690.2,-318.3 h-3.4 a4,4 0 0 0 0,8 h3.4 z" fill="#fff" stroke="#a9a9a9" stroke-width="0.8"/><path d="M690.2,-306.4 h-3.4 a4,4 0 0 0 0,8 h3.4 z" fill="#fff" stroke="#a9a9a9" stroke-width="0.8"/><rect x="690.2" y="-379.8" width="7.6" height="83.3" fill="#fff" stroke="#a9a9a9" stroke-width="0.8" /><path d="M688.7,-271.3 h-3.4 a4,4 0 0 0 0,8 h3.4 z" fill="#fff" stroke="#a9a9a9" stroke-width="0.8"/><path d="M688.7,-259.3 h-3.4 a4,4 0 0 0 0,8 h3.4 z" fill="#fff" stroke="#a9a9a9" stroke-width="0.8"/><path d="M688.7,-247.4 h-3.4 a4,4 0 0 0 0,8 h3.4 z" fill="#fff" stroke="#a9a9a9" stroke-width="0.8"/><path d="M688.7,-235.4 h-3.4 a4,4 0 0 0 0,8 h3.4 z" fill="#fff" stroke="#a9a9a9" stroke-width="0.8"/><path d="M688.7,-223.4 h-3.4 a4,4 0 0 0 0,8 h3.4 z" fill="#fff" stroke="#a9a9a9" stroke-width="0.8"/><path d="M688.7,-211.4 h-3.4 a4,4 0 0 0 0,8 h3.4 z" fill="#fff" stroke="#a9a9a9" stroke-width="0.8"/><path d="M688.7,-199.5 h-3.4 a4,4 0 0 0 0,8 h3.4 z" fill="#fff" stroke="#a9a9a9" stroke-width="0.8"/><rect x="688.7" y="-273.3" width="7.6" height="83.8" fill="#fff" stroke="#a9a9a9" stroke-width="0.8" /><path d="M709.1,-380.7 h-3.4 a4,4 0 0 0 0,8 h3.4 z" fill="#fff" stroke="#a9a9a9" stroke-width="0.8"/><path d="M709.1,-370.0 h-3.4 a4,4 0 0 0 0,8 h3.4 z" fill="#fff" stroke="#a9a9a9" stroke-width="0.8"/><path d="M709.1,-359.3 h-3.4 a4,4 0 0 0 0,8 h3.4 z" fill="#fff" stroke="#a9a9a9" stroke-width="0.8"/><path d="M709.1,-348.6 h-3.4 a4,4 0 0 0 0,8 h3.4 z" fill="#fff" stroke="#a9a9a9" stroke-width="0.8"/><path d="M709.1,-337.9 h-3.4 a4,4 0 0 0 0,8 h3.4 z" fill="#fff" stroke="#a9a9a9" stroke-width="0.8"/><path d="M709.1,-327.2 h-3.4 a4,4 0 0 0 0,8 h3.4 z" fill="#fff" stroke="#a9a9a9" stroke-width="0.8"/><path d="M709.1,-316.6 h-3.4 a4,4 0 0 0 0,8 h3.4 z" fill="#fff" stroke="#a9a9a9" stroke-width="0.8"/><path d="M709.1,-305.9 h-3.4 a4,4 0 0 0 0,8 h3.4 z" fill="#fff" stroke="#a9a9a9" stroke-width="0.8"/><rect x="709.1" y="-382.1" width="7.6" height="85.6" fill="#fff" stroke="#a9a9a9" stroke-width="0.8" /><path d="M707.3,-272.6 h-3.4 a4,4 0 0 0 0,8 h3.4 z" fill="#fff" stroke="#a9a9a9" stroke-width="0.8"/><path d="M707.3,-261.8 h-3.4 a4,4 0 0 0 0,8 h3.4 z" fill="#fff" stroke="#a9a9a9" stroke-width="0.8"/><path d="M707.3,-251.0 h-3.4 a4,4 0 0 0 0,8 h3.4 z" fill="#fff" stroke="#a9a9a9" stroke-width="0.8"/><path d="M707.3,-240.2 h-3.4 a4,4 0 0 0 0,8 h3.4 z" fill="#fff" stroke="#a9a9a9" stroke-width="0.8"/><path d="M707.3,-229.5 h-3.4 a4,4 0 0 0 0,8 h3.4 z" fill="#fff" stroke="#a9a9a9" stroke-width="0.8"/><path d="M707.3,-218.7 h-3.4 a4,4 0 0 0 0,8 h3.4 z" fill="#fff" stroke="#a9a9a9" stroke-width="0.8"/><path d="M707.3,-207.9 h-3.4 a4,4 0 0 0 0,8 h3.4 z" fill="#fff" stroke="#a9a9a9" stroke-width="0.8"/><path d="M707.3,-197.1 h-3.4 a4,4 0 0 0 0,8 h3.4 z" fill="#fff" stroke="#a9a9a9" stroke-width="0.8"/><rect x="707.3" y="-274.0" width="7.6" height="86.3" fill="#fff" stroke="#a9a9a9" stroke-width="0.8" /><line x1="184.0" y1="-350.0" x2="185.0" y2="-190.0" stroke="#666" stroke-width="0.9" stroke-dasharray="4,3"/><line x1="477.0" y1="-381.0" x2="478.0" y2="-184.0" stroke="#666" stroke-width="0.9" stroke-dasharray="4,3"/><line x1="746.0" y1="-406.0" x2="748.0" y2="-163.0" stroke="#777" stroke-width="0.8" /><line x1="-7.0" y1="-350.0" x2="-10.0" y2="-206.0" stroke="#999" stroke-width="0.7" /><line x1="-6.0" y1="-190.0" x2="1.5" y2="-193.6" stroke="#333" stroke-width="1.3" /><line x1="2.2" y1="-190.0" x2="9.7" y2="-193.6" stroke="#333" stroke-width="1.3" /><line x1="10.4" y1="-190.0" x2="17.9" y2="-193.6" stroke="#333" stroke-width="1.3" /><line x1="18.6" y1="-190.0" x2="26.1" y2="-193.6" stroke="#333" stroke-width="1.3" /><line x1="26.8" y1="-190.0" x2="34.3" y2="-193.6" stroke="#333" stroke-width="1.3" /><line x1="35.0" y1="-190.0" x2="42.5" y2="-193.6" stroke="#333" stroke-width="1.3" /><line x1="43.2" y1="-190.0" x2="50.7" y2="-193.6" stroke="#333" stroke-width="1.3" /><line x1="51.4" y1="-190.0" x2="58.9" y2="-193.6" stroke="#333" stroke-width="1.3" /><line x1="59.6" y1="-190.0" x2="67.1" y2="-193.6" stroke="#333" stroke-width="1.3" /><line x1="67.8" y1="-190.0" x2="75.3" y2="-193.6" stroke="#333" stroke-width="1.3" /><line x1="76.0" y1="-190.0" x2="83.5" y2="-193.6" stroke="#333" stroke-width="1.3" /><line x1="84.2" y1="-190.0" x2="91.7" y2="-193.6" stroke="#333" stroke-width="1.3" /><line x1="92.4" y1="-190.0" x2="99.9" y2="-193.6" stroke="#333" stroke-width="1.3" /><line x1="100.6" y1="-190.0" x2="108.1" y2="-193.6" stroke="#333" stroke-width="1.3" /><line x1="108.8" y1="-190.0" x2="116.3" y2="-193.6" stroke="#333" stroke-width="1.3" /><line x1="117.0" y1="-190.0" x2="124.5" y2="-193.6" stroke="#333" stroke-width="1.3" /><line x1="125.2" y1="-190.0" x2="132.7" y2="-193.6" stroke="#333" stroke-width="1.3" /><line x1="133.4" y1="-190.0" x2="140.9" y2="-193.6" stroke="#333" stroke-width="1.3" /><line x1="141.6" y1="-190.0" x2="149.1" y2="-193.6" stroke="#333" stroke-width="1.3" /><line x1="149.8" y1="-190.0" x2="157.3" y2="-193.6" stroke="#333" stroke-width="1.3" /><line x1="158.0" y1="-190.0" x2="165.5" y2="-193.6" stroke="#333" stroke-width="1.3" /><line x1="166.2" y1="-190.0" x2="173.7" y2="-193.6" stroke="#333" stroke-width="1.3" /><line x1="174.4" y1="-190.0" x2="181.9" y2="-193.6" stroke="#333" stroke-width="1.3" /><line x1="182.6" y1="-190.0" x2="190.1" y2="-193.6" stroke="#333" stroke-width="1.3" /><line x1="190.8" y1="-190.0" x2="198.3" y2="-193.6" stroke="#333" stroke-width="1.3" /><line x1="199.0" y1="-190.0" x2="206.5" y2="-193.6" stroke="#333" stroke-width="1.3" /><line x1="207.2" y1="-190.0" x2="214.7" y2="-193.6" stroke="#333" stroke-width="1.3" /><line x1="215.4" y1="-190.0" x2="222.9" y2="-193.6" stroke="#333" stroke-width="1.3" /><line x1="223.6" y1="-190.0" x2="231.1" y2="-193.6" stroke="#333" stroke-width="1.3" /><line x1="231.8" y1="-190.0" x2="239.3" y2="-193.6" stroke="#333" stroke-width="1.3" /><line x1="240.0" y1="-190.0" x2="247.5" y2="-193.6" stroke="#333" stroke-width="1.3" /><line x1="248.2" y1="-190.0" x2="255.7" y2="-193.6" stroke="#333" stroke-width="1.3" /><line x1="256.4" y1="-190.0" x2="263.9" y2="-193.6" stroke="#333" stroke-width="1.3" /><line x1="264.6" y1="-190.0" x2="272.1" y2="-193.6" stroke="#333" stroke-width="1.3" /><line x1="272.8" y1="-190.0" x2="280.3" y2="-193.6" stroke="#333" stroke-width="1.3" /><line x1="281.0" y1="-190.0" x2="288.5" y2="-193.6" stroke="#333" stroke-width="1.3" /><line x1="289.2" y1="-190.0" x2="296.7" y2="-193.6" stroke="#333" stroke-width="1.3" /><line x1="297.4" y1="-190.0" x2="304.9" y2="-193.6" stroke="#333" stroke-width="1.3" /><line x1="305.6" y1="-190.0" x2="313.1" y2="-193.6" stroke="#333" stroke-width="1.3" /><line x1="313.8" y1="-190.0" x2="321.3" y2="-193.6" stroke="#333" stroke-width="1.3" /><line x1="322.0" y1="-190.0" x2="329.5" y2="-193.6" stroke="#333" stroke-width="1.3" /><line x1="330.2" y1="-190.0" x2="337.7" y2="-193.6" stroke="#333" stroke-width="1.3" /><line x1="338.4" y1="-190.0" x2="345.9" y2="-193.6" stroke="#333" stroke-width="1.3" /><line x1="346.6" y1="-190.0" x2="354.1" y2="-193.6" stroke="#333" stroke-width="1.3" /><line x1="354.8" y1="-190.0" x2="362.3" y2="-193.6" stroke="#333" stroke-width="1.3" /><line x1="363.0" y1="-190.0" x2="370.5" y2="-193.6" stroke="#333" stroke-width="1.3" /><line x1="371.2" y1="-190.0" x2="378.7" y2="-193.6" stroke="#333" stroke-width="1.3" /><line x1="379.4" y1="-190.0" x2="386.9" y2="-193.6" stroke="#333" stroke-width="1.3" /><line x1="387.6" y1="-190.0" x2="395.1" y2="-193.6" stroke="#333" stroke-width="1.3" /><line x1="395.8" y1="-190.0" x2="403.3" y2="-193.6" stroke="#333" stroke-width="1.3" /><line x1="404.0" y1="-190.0" x2="411.5" y2="-193.6" stroke="#333" stroke-width="1.3" /><line x1="412.2" y1="-190.0" x2="419.7" y2="-193.6" stroke="#333" stroke-width="1.3" /><line x1="420.4" y1="-190.0" x2="427.9" y2="-193.6" stroke="#333" stroke-width="1.3" /><line x1="428.6" y1="-190.0" x2="436.1" y2="-193.6" stroke="#333" stroke-width="1.3" /><line x1="436.8" y1="-190.0" x2="444.3" y2="-193.6" stroke="#333" stroke-width="1.3" /><line x1="754.4" y1="-1156.1" x2="762.0" y2="-1160.0" stroke="#333" stroke-width="1.3" /><line x1="754.4" y1="-1147.7" x2="762.0" y2="-1151.6" stroke="#333" stroke-width="1.3" /><line x1="754.4" y1="-1139.3" x2="762.0" y2="-1143.2" stroke="#333" stroke-width="1.3" /><line x1="754.4" y1="-1130.9" x2="762.0" y2="-1134.8" stroke="#333" stroke-width="1.3" /><line x1="754.4" y1="-1122.5" x2="762.0" y2="-1126.4" stroke="#333" stroke-width="1.3" /><line x1="754.4" y1="-1114.1" x2="762.0" y2="-1118.0" stroke="#333" stroke-width="1.3" /><line x1="754.4" y1="-1105.7" x2="762.0" y2="-1109.6" stroke="#333" stroke-width="1.3" /><line x1="754.4" y1="-1097.3" x2="762.0" y2="-1101.2" stroke="#333" stroke-width="1.3" /><line x1="754.4" y1="-1088.9" x2="762.0" y2="-1092.8" stroke="#333" stroke-width="1.3" /><line x1="754.4" y1="-1080.5" x2="762.0" y2="-1084.4" stroke="#333" stroke-width="1.3" /><line x1="754.4" y1="-1072.1" x2="762.0" y2="-1076.0" stroke="#333" stroke-width="1.3" /><line x1="754.4" y1="-1063.7" x2="762.0" y2="-1067.6" stroke="#333" stroke-width="1.3" /><line x1="754.4" y1="-1055.3" x2="762.0" y2="-1059.2" stroke="#333" stroke-width="1.3" /><line x1="754.4" y1="-1046.9" x2="762.0" y2="-1050.8" stroke="#333" stroke-width="1.3" /><line x1="754.4" y1="-1038.5" x2="762.0" y2="-1042.4" stroke="#333" stroke-width="1.3" /><line x1="754.4" y1="-1030.1" x2="762.0" y2="-1034.0" stroke="#333" stroke-width="1.3" /><line x1="754.4" y1="-1021.7" x2="762.0" y2="-1025.6" stroke="#333" stroke-width="1.3" /><line x1="754.4" y1="-1013.3" x2="762.0" y2="-1017.2" stroke="#333" stroke-width="1.3" /><line x1="754.4" y1="-1004.9" x2="762.0" y2="-1008.8" stroke="#333" stroke-width="1.3" /><line x1="754.4" y1="-996.5" x2="762.0" y2="-1000.4" stroke="#333" stroke-width="1.3" /><line x1="754.4" y1="-988.1" x2="762.0" y2="-992.0" stroke="#333" stroke-width="1.3" /><line x1="754.4" y1="-979.7" x2="762.0" y2="-983.6" stroke="#333" stroke-width="1.3" /><line x1="754.4" y1="-971.3" x2="762.0" y2="-975.2" stroke="#333" stroke-width="1.3" /><line x1="754.4" y1="-962.9" x2="762.0" y2="-966.8" stroke="#333" stroke-width="1.3" /><line x1="754.4" y1="-954.5" x2="762.0" y2="-958.4" stroke="#333" stroke-width="1.3" /><line x1="754.4" y1="-946.1" x2="762.0" y2="-950.0" stroke="#333" stroke-width="1.3" /><line x1="754.4" y1="-937.7" x2="762.0" y2="-941.6" stroke="#333" stroke-width="1.3" /><line x1="754.4" y1="-929.3" x2="762.0" y2="-933.2" stroke="#333" stroke-width="1.3" /><line x1="754.4" y1="-920.9" x2="762.0" y2="-924.8" stroke="#333" stroke-width="1.3" /><line x1="754.4" y1="-912.5" x2="762.0" y2="-916.4" stroke="#333" stroke-width="1.3" /><line x1="754.4" y1="-904.1" x2="762.0" y2="-908.0" stroke="#333" stroke-width="1.3" /><line x1="754.4" y1="-895.7" x2="762.0" y2="-899.6" stroke="#333" stroke-width="1.3" /><line x1="754.4" y1="-887.3" x2="762.0" y2="-891.2" stroke="#333" stroke-width="1.3" /><line x1="754.4" y1="-878.9" x2="762.0" y2="-882.8" stroke="#333" stroke-width="1.3" /><line x1="754.4" y1="-870.5" x2="762.0" y2="-874.4" stroke="#333" stroke-width="1.3" /><line x1="754.4" y1="-862.1" x2="762.0" y2="-866.0" stroke="#333" stroke-width="1.3" /><line x1="754.4" y1="-853.7" x2="762.0" y2="-857.6" stroke="#333" stroke-width="1.3" /><line x1="754.4" y1="-845.3" x2="762.0" y2="-849.2" stroke="#333" stroke-width="1.3" /><line x1="754.4" y1="-836.9" x2="762.0" y2="-840.8" stroke="#333" stroke-width="1.3" /><line x1="754.4" y1="-828.5" x2="762.0" y2="-832.4" stroke="#333" stroke-width="1.3" /><line x1="754.4" y1="-820.1" x2="762.0" y2="-824.0" stroke="#333" stroke-width="1.3" /><line x1="754.4" y1="-811.7" x2="762.0" y2="-815.6" stroke="#333" stroke-width="1.3" /><line x1="754.4" y1="-803.3" x2="762.0" y2="-807.2" stroke="#333" stroke-width="1.3" /><line x1="754.4" y1="-794.9" x2="762.0" y2="-798.8" stroke="#333" stroke-width="1.3" /><line x1="754.4" y1="-786.5" x2="762.0" y2="-790.4" stroke="#333" stroke-width="1.3" /><line x1="754.4" y1="-778.1" x2="762.0" y2="-782.0" stroke="#333" stroke-width="1.3" /><line x1="754.4" y1="-769.7" x2="762.0" y2="-773.6" stroke="#333" stroke-width="1.3" /><line x1="754.4" y1="-761.3" x2="762.0" y2="-765.2" stroke="#333" stroke-width="1.3" /><line x1="754.4" y1="-752.9" x2="762.0" y2="-756.8" stroke="#333" stroke-width="1.3" /><line x1="754.4" y1="-744.5" x2="762.0" y2="-748.4" stroke="#333" stroke-width="1.3" /><line x1="754.4" y1="-736.1" x2="762.0" y2="-740.0" stroke="#333" stroke-width="1.3" /><line x1="754.4" y1="-727.7" x2="762.0" y2="-731.6" stroke="#333" stroke-width="1.3" /><line x1="754.4" y1="-719.3" x2="762.0" y2="-723.2" stroke="#333" stroke-width="1.3" /><line x1="754.4" y1="-710.9" x2="762.0" y2="-714.8" stroke="#333" stroke-width="1.3" /><line x1="754.4" y1="-702.5" x2="762.0" y2="-706.4" stroke="#333" stroke-width="1.3" /><line x1="754.4" y1="-694.1" x2="762.0" y2="-698.0" stroke="#333" stroke-width="1.3" /><line x1="754.4" y1="-685.7" x2="762.0" y2="-689.6" stroke="#333" stroke-width="1.3" /><line x1="754.4" y1="-677.3" x2="762.0" y2="-681.2" stroke="#333" stroke-width="1.3" /><line x1="754.4" y1="-668.9" x2="762.0" y2="-672.8" stroke="#333" stroke-width="1.3" /><line x1="754.4" y1="-660.5" x2="762.0" y2="-664.4" stroke="#333" stroke-width="1.3" /><line x1="754.4" y1="-652.1" x2="762.0" y2="-656.0" stroke="#333" stroke-width="1.3" /><line x1="754.4" y1="-643.7" x2="762.0" y2="-647.6" stroke="#333" stroke-width="1.3" /><line x1="754.4" y1="-635.3" x2="762.0" y2="-639.2" stroke="#333" stroke-width="1.3" /><line x1="754.4" y1="-626.9" x2="762.0" y2="-630.8" stroke="#333" stroke-width="1.3" /><line x1="754.4" y1="-618.5" x2="762.0" y2="-622.4" stroke="#333" stroke-width="1.3" /><line x1="754.4" y1="-610.1" x2="762.0" y2="-614.0" stroke="#333" stroke-width="1.3" /><line x1="754.4" y1="-601.7" x2="762.0" y2="-605.6" stroke="#333" stroke-width="1.3" /><line x1="754.4" y1="-593.3" x2="762.0" y2="-597.2" stroke="#333" stroke-width="1.3" /><line x1="754.4" y1="-584.9" x2="762.0" y2="-588.8" stroke="#333" stroke-width="1.3" /><line x1="754.4" y1="-576.5" x2="762.0" y2="-580.4" stroke="#333" stroke-width="1.3" /><line x1="754.4" y1="-568.1" x2="762.0" y2="-572.0" stroke="#333" stroke-width="1.3" /><line x1="754.4" y1="-559.7" x2="762.0" y2="-563.6" stroke="#333" stroke-width="1.3" /><line x1="754.4" y1="-551.3" x2="762.0" y2="-555.2" stroke="#333" stroke-width="1.3" /><line x1="754.4" y1="-542.9" x2="762.0" y2="-546.8" stroke="#333" stroke-width="1.3" /><line x1="754.4" y1="-534.5" x2="762.0" y2="-538.4" stroke="#333" stroke-width="1.3" /><line x1="754.4" y1="-526.1" x2="762.0" y2="-530.0" stroke="#333" stroke-width="1.3" /><line x1="754.4" y1="-517.7" x2="762.0" y2="-521.6" stroke="#333" stroke-width="1.3" /><line x1="754.4" y1="-509.3" x2="762.0" y2="-513.2" stroke="#333" stroke-width="1.3" /><line x1="754.4" y1="-500.9" x2="762.0" y2="-504.8" stroke="#333" stroke-width="1.3" /><line x1="754.4" y1="-492.5" x2="762.0" y2="-496.4" stroke="#333" stroke-width="1.3" /><line x1="754.4" y1="-484.1" x2="762.0" y2="-488.0" stroke="#333" stroke-width="1.3" /><line x1="754.4" y1="-475.7" x2="762.0" y2="-479.6" stroke="#333" stroke-width="1.3" /><line x1="754.4" y1="-467.3" x2="762.0" y2="-471.2" stroke="#333" stroke-width="1.3" /><line x1="754.4" y1="-458.9" x2="762.0" y2="-462.8" stroke="#333" stroke-width="1.3" /><line x1="754.4" y1="-450.5" x2="762.0" y2="-454.4" stroke="#333" stroke-width="1.3" /><line x1="754.4" y1="-442.1" x2="762.0" y2="-446.0" stroke="#333" stroke-width="1.3" /><line x1="754.4" y1="-433.7" x2="762.0" y2="-437.6" stroke="#333" stroke-width="1.3" /><line x1="754.4" y1="-425.3" x2="762.0" y2="-429.2" stroke="#333" stroke-width="1.3" /><line x1="754.4" y1="-416.9" x2="762.0" y2="-420.8" stroke="#333" stroke-width="1.3" /></g>
<line x1="336.0" y1="743.8" x2="549.3" y2="815.6" stroke="#333" stroke-width="0.9" />
<line x1="503.6" y1="685.0" x2="381.7" y2="874.3" stroke="#333" stroke-width="0.9" />
<line x1="406.9" y1="936.1" x2="707.9" y2="1218.8" stroke="#333" stroke-width="0.9" />
<line x1="602.2" y1="920.4" x2="490.1" y2="1176.2" stroke="#333" stroke-width="0.9" />
<g transform="matrix(0.94374,-0.33069,0.33069,0.94374,121.8,487.5)"><line x1="6.0" y1="196.6" x2="6.0" y2="200.2" stroke="#333" stroke-width="0.9" /><line x1="22.2" y1="196.6" x2="22.2" y2="200.2" stroke="#333" stroke-width="0.9" /><line x1="38.4" y1="196.6" x2="38.4" y2="200.2" stroke="#333" stroke-width="0.9" /><line x1="54.6" y1="196.6" x2="54.6" y2="200.2" stroke="#333" stroke-width="0.9" /><line x1="70.8" y1="196.6" x2="70.8" y2="200.2" stroke="#333" stroke-width="0.9" /><line x1="87.0" y1="196.6" x2="87.0" y2="200.2" stroke="#333" stroke-width="0.9" /><line x1="103.2" y1="196.6" x2="103.2" y2="200.2" stroke="#333" stroke-width="0.9" /><line x1="119.4" y1="196.6" x2="119.4" y2="200.2" stroke="#333" stroke-width="0.9" /><line x1="135.6" y1="196.6" x2="135.6" y2="200.2" stroke="#333" stroke-width="0.9" /><line x1="151.8" y1="196.6" x2="151.8" y2="200.2" stroke="#333" stroke-width="0.9" /><line x1="168.0" y1="196.6" x2="168.0" y2="200.2" stroke="#333" stroke-width="0.9" /><line x1="184.2" y1="196.6" x2="184.2" y2="200.2" stroke="#333" stroke-width="0.9" /><line x1="200.4" y1="196.6" x2="200.4" y2="200.2" stroke="#333" stroke-width="0.9" /><line x1="216.6" y1="196.6" x2="216.6" y2="200.2" stroke="#333" stroke-width="0.9" /><line x1="232.8" y1="196.6" x2="232.8" y2="200.2" stroke="#333" stroke-width="0.9" /><line x1="249.0" y1="196.6" x2="249.0" y2="200.2" stroke="#333" stroke-width="0.9" /><line x1="265.2" y1="196.6" x2="265.2" y2="200.2" stroke="#333" stroke-width="0.9" /><line x1="281.4" y1="196.6" x2="281.4" y2="200.2" stroke="#333" stroke-width="0.9" /><line x1="297.6" y1="196.6" x2="297.6" y2="200.2" stroke="#333" stroke-width="0.9" /><line x1="313.8" y1="196.6" x2="313.8" y2="200.2" stroke="#333" stroke-width="0.9" /><line x1="330.0" y1="196.6" x2="330.0" y2="200.2" stroke="#333" stroke-width="0.9" /><line x1="346.2" y1="196.6" x2="346.2" y2="200.2" stroke="#333" stroke-width="0.9" /><line x1="362.4" y1="196.6" x2="362.4" y2="200.2" stroke="#333" stroke-width="0.9" /><line x1="378.6" y1="196.6" x2="378.6" y2="200.2" stroke="#333" stroke-width="0.9" /><line x1="394.8" y1="196.6" x2="394.8" y2="200.2" stroke="#333" stroke-width="0.9" /><line x1="411.0" y1="196.6" x2="411.0" y2="200.2" stroke="#333" stroke-width="0.9" /><line x1="427.2" y1="196.6" x2="427.2" y2="200.2" stroke="#333" stroke-width="0.9" /><line x1="443.4" y1="196.6" x2="443.4" y2="200.2" stroke="#333" stroke-width="0.9" /><line x1="459.6" y1="196.6" x2="459.6" y2="200.2" stroke="#333" stroke-width="0.9" /><line x1="475.8" y1="196.6" x2="475.8" y2="200.2" stroke="#333" stroke-width="0.9" /><line x1="492.0" y1="196.6" x2="492.0" y2="200.2" stroke="#333" stroke-width="0.9" /><line x1="508.2" y1="196.6" x2="508.2" y2="200.2" stroke="#333" stroke-width="0.9" /><line x1="524.4" y1="196.6" x2="524.4" y2="200.2" stroke="#333" stroke-width="0.9" /><line x1="540.6" y1="196.6" x2="540.6" y2="200.2" stroke="#333" stroke-width="0.9" /><line x1="556.8" y1="196.6" x2="556.8" y2="200.2" stroke="#333" stroke-width="0.9" /><line x1="573.0" y1="196.6" x2="573.0" y2="200.2" stroke="#333" stroke-width="0.9" /><line x1="589.2" y1="196.6" x2="589.2" y2="200.2" stroke="#333" stroke-width="0.9" /><line x1="605.4" y1="196.6" x2="605.4" y2="200.2" stroke="#333" stroke-width="0.9" /><line x1="621.6" y1="196.6" x2="621.6" y2="200.2" stroke="#333" stroke-width="0.9" /><line x1="637.8" y1="196.6" x2="637.8" y2="200.2" stroke="#333" stroke-width="0.9" /><line x1="654.0" y1="196.6" x2="654.0" y2="200.2" stroke="#333" stroke-width="0.9" /><line x1="670.2" y1="196.6" x2="670.2" y2="200.2" stroke="#333" stroke-width="0.9" /><line x1="686.4" y1="196.6" x2="686.4" y2="200.2" stroke="#333" stroke-width="0.9" /><line x1="702.6" y1="196.6" x2="702.6" y2="200.2" stroke="#333" stroke-width="0.9" /><line x1="718.8" y1="196.6" x2="718.8" y2="200.2" stroke="#333" stroke-width="0.9" /><line x1="735.0" y1="196.6" x2="735.0" y2="200.2" stroke="#333" stroke-width="0.9" /><line x1="751.2" y1="196.6" x2="751.2" y2="200.2" stroke="#333" stroke-width="0.9" /><line x1="767.4" y1="196.6" x2="767.4" y2="200.2" stroke="#333" stroke-width="0.9" /><line x1="783.6" y1="196.6" x2="783.6" y2="200.2" stroke="#333" stroke-width="0.9" /><line x1="799.8" y1="196.6" x2="799.8" y2="200.2" stroke="#333" stroke-width="0.9" /><line x1="816.0" y1="196.6" x2="816.0" y2="200.2" stroke="#333" stroke-width="0.9" /><line x1="832.2" y1="196.6" x2="832.2" y2="200.2" stroke="#333" stroke-width="0.9" /><line x1="848.4" y1="196.6" x2="848.4" y2="200.2" stroke="#333" stroke-width="0.9" /><line x1="864.6" y1="196.6" x2="864.6" y2="200.2" stroke="#333" stroke-width="0.9" /><line x1="880.8" y1="196.6" x2="880.8" y2="200.2" stroke="#333" stroke-width="0.9" /><line x1="897.0" y1="196.6" x2="897.0" y2="200.2" stroke="#333" stroke-width="0.9" /><line x1="913.2" y1="196.6" x2="913.2" y2="200.2" stroke="#333" stroke-width="0.9" /><line x1="929.4" y1="196.6" x2="929.4" y2="200.2" stroke="#333" stroke-width="0.9" /><line x1="945.6" y1="196.6" x2="945.6" y2="200.2" stroke="#333" stroke-width="0.9" /><line x1="961.8" y1="196.6" x2="961.8" y2="200.2" stroke="#333" stroke-width="0.9" /><line x1="978.0" y1="196.6" x2="978.0" y2="200.2" stroke="#333" stroke-width="0.9" /><line x1="994.2" y1="196.6" x2="994.2" y2="200.2" stroke="#333" stroke-width="0.9" /><line x1="1010.4" y1="196.6" x2="1010.4" y2="200.2" stroke="#333" stroke-width="0.9" /><line x1="1026.6" y1="196.6" x2="1026.6" y2="200.2" stroke="#333" stroke-width="0.9" /><line x1="1042.8" y1="196.6" x2="1042.8" y2="200.2" stroke="#333" stroke-width="0.9" /></g>
<g transform="matrix(0.94374,-0.33069,0.33069,0.94374,121.8,487.5)"><rect x="175.0" y="515.5" width="100.5" height="46.0" fill="#f0f0f0" stroke="#444" stroke-width="1.6" /><rect x="177.0" y="517.5" width="96.5" height="42.0" fill="none" stroke="#bbb" stroke-width="0.6" /><rect x="183.0" y="523.5" width="35.0" height="28.5" fill="#e2e2e2" stroke="#555" stroke-width="1.3" /><rect x="184.8" y="525.3" width="31.4" height="24.9" fill="none" stroke="#999" stroke-width="0.6" /><rect x="232.0" y="523.5" width="35.0" height="28.5" fill="#e2e2e2" stroke="#555" stroke-width="1.3" /><rect x="233.8" y="525.3" width="31.4" height="24.9" fill="none" stroke="#999" stroke-width="0.6" /><line x1="225.0" y1="516.0" x2="225.0" y2="561.0" stroke="#666" stroke-width="0.8" /><rect x="222.0" y="530.0" width="6.0" height="14.0" fill="#aaa" stroke="#777" stroke-width="0.5" /><line x1="191.0" y1="516.0" x2="211.0" y2="516.0" stroke="#222" stroke-width="1.8" /><line x1="240.0" y1="516.0" x2="260.0" y2="516.0" stroke="#222" stroke-width="1.8" /><line x1="300.0" y1="204.0" x2="320.0" y2="265.0" stroke="#777" stroke-width="0.6" /><line x1="320.0" y1="204.0" x2="300.0" y2="265.0" stroke="#777" stroke-width="0.6" /><line x1="301.0" y1="269.0" x2="320.0" y2="312.0" stroke="#777" stroke-width="0.6" /><line x1="320.0" y1="269.0" x2="301.0" y2="312.0" stroke="#777" stroke-width="0.6" /><path d="M340,212 L372,212 L366,221 L372,229 L340,229 L346,221 Z" fill="none" stroke="#999" stroke-width="0.8"/><ellipse cx="358" cy="221" rx="4" ry="3" fill="none" stroke="#999" stroke-width="0.8"/><ellipse cx="392" cy="221" rx="4" ry="3" fill="none" stroke="#999" stroke-width="0.8"/><path d="M384,212 L398,212 L395,221 L398,229 L384,229" fill="none" stroke="#999" stroke-width="0.8"/><path d="M340,230 L372,230 L366,239 L372,247 L340,247 L346,239 Z" fill="none" stroke="#999" stroke-width="0.8"/><ellipse cx="358" cy="239" rx="4" ry="3" fill="none" stroke="#999" stroke-width="0.8"/><ellipse cx="392" cy="239" rx="4" ry="3" fill="none" stroke="#999" stroke-width="0.8"/><path d="M384,230 L398,230 L395,239 L398,247 L384,247" fill="none" stroke="#999" stroke-width="0.8"/><path d="M340,248 L372,248 L366,257 L372,265 L340,265 L346,257 Z" fill="none" stroke="#999" stroke-width="0.8"/><ellipse cx="358" cy="257" rx="4" ry="3" fill="none" stroke="#999" stroke-width="0.8"/><ellipse cx="392" cy="257" rx="4" ry="3" fill="none" stroke="#999" stroke-width="0.8"/><path d="M384,248 L398,248 L395,257 L398,265 L384,265" fill="none" stroke="#999" stroke-width="0.8"/><path d="M440,222 l6,3 l-6,3 z" fill="none" stroke="#999" stroke-width="0.8"/><path d="M440,236 l6,3 l-6,3 z" fill="none" stroke="#999" stroke-width="0.8"/><path d="M440,250 l6,3 l-6,3 z" fill="none" stroke="#999" stroke-width="0.8"/><path d="M440,264 l6,3 l-6,3 z" fill="none" stroke="#999" stroke-width="0.8"/><circle cx="330" cy="307" r="2.8" fill="none" stroke="#999" stroke-width="0.7"/><circle cx="343" cy="307" r="2.8" fill="none" stroke="#999" stroke-width="0.7"/><circle cx="420" cy="306" r="2.8" fill="none" stroke="#999" stroke-width="0.7"/><circle cx="433" cy="306" r="2.8" fill="none" stroke="#999" stroke-width="0.7"/><line x1="324.0" y1="301.0" x2="361.0" y2="301.0" stroke="#aaa" stroke-width="0.7" /><line x1="406.0" y1="300.0" x2="450.0" y2="300.0" stroke="#aaa" stroke-width="0.7" /><circle cx="1.6" cy="224.2" r="3.4" fill="#fff" stroke="#a9a9a9" stroke-width="0.8"/><rect x="-4.0" y="228.7" width="16.0" height="14.0" fill="#fff" stroke="#a9a9a9" stroke-width="0.8" /><line x1="-4.0" y1="233.2" x2="12.0" y2="233.2" stroke="#a9a9a9" stroke-width="0.6" /><circle cx="1.6" cy="255.7" r="3.4" fill="#fff" stroke="#a9a9a9" stroke-width="0.8"/><rect x="-4.0" y="260.2" width="16.0" height="14.0" fill="#fff" stroke="#a9a9a9" stroke-width="0.8" /><line x1="-4.0" y1="264.7" x2="12.0" y2="264.7" stroke="#a9a9a9" stroke-width="0.6" /><circle cx="1.6" cy="287.1" r="3.4" fill="#fff" stroke="#a9a9a9" stroke-width="0.8"/><rect x="-4.0" y="291.6" width="16.0" height="14.0" fill="#fff" stroke="#a9a9a9" stroke-width="0.8" /><line x1="-4.0" y1="296.1" x2="12.0" y2="296.1" stroke="#a9a9a9" stroke-width="0.6" /><circle cx="1.6" cy="318.6" r="3.4" fill="#fff" stroke="#a9a9a9" stroke-width="0.8"/><rect x="-4.0" y="323.1" width="16.0" height="14.0" fill="#fff" stroke="#a9a9a9" stroke-width="0.8" /><line x1="-4.0" y1="327.6" x2="12.0" y2="327.6" stroke="#a9a9a9" stroke-width="0.6" /><circle cx="1.6" cy="350.4" r="3.4" fill="#fff" stroke="#a9a9a9" stroke-width="0.8"/><rect x="-4.0" y="354.9" width="16.0" height="14.0" fill="#fff" stroke="#a9a9a9" stroke-width="0.8" /><line x1="-4.0" y1="359.4" x2="12.0" y2="359.4" stroke="#a9a9a9" stroke-width="0.6" /><circle cx="1.6" cy="381.9" r="3.4" fill="#fff" stroke="#a9a9a9" stroke-width="0.8"/><rect x="-4.0" y="386.4" width="16.0" height="14.0" fill="#fff" stroke="#a9a9a9" stroke-width="0.8" /><line x1="-4.0" y1="390.9" x2="12.0" y2="390.9" stroke="#a9a9a9" stroke-width="0.6" /><rect x="23.3" y="529.0" width="12.0" height="56.0" fill="#fff" stroke="#a9a9a9" stroke-width="0.8" /><line x1="29.3" y1="529.0" x2="29.3" y2="585.0" stroke="#a9a9a9" stroke-width="0.6" /><line x1="23.3" y1="543.0" x2="35.3" y2="543.0" stroke="#a9a9a9" stroke-width="0.6" /><line x1="23.3" y1="557.0" x2="35.3" y2="557.0" stroke="#a9a9a9" stroke-width="0.6" /><line x1="23.3" y1="571.0" x2="35.3" y2="571.0" stroke="#a9a9a9" stroke-width="0.6" /><rect x="53.9" y="529.0" width="12.0" height="56.0" fill="#fff" stroke="#a9a9a9" stroke-width="0.8" /><line x1="59.9" y1="529.0" x2="59.9" y2="585.0" stroke="#a9a9a9" stroke-width="0.6" /><line x1="53.9" y1="543.0" x2="65.9" y2="543.0" stroke="#a9a9a9" stroke-width="0.6" /><line x1="53.9" y1="557.0" x2="65.9" y2="557.0" stroke="#a9a9a9" stroke-width="0.6" /><line x1="53.9" y1="571.0" x2="65.9" y2="571.0" stroke="#a9a9a9" stroke-width="0.6" /><rect x="83.5" y="529.0" width="12.0" height="56.0" fill="#fff" stroke="#a9a9a9" stroke-width="0.8" /><line x1="89.5" y1="529.0" x2="89.5" y2="585.0" stroke="#a9a9a9" stroke-width="0.6" /><line x1="83.5" y1="543.0" x2="95.5" y2="543.0" stroke="#a9a9a9" stroke-width="0.6" /><line x1="83.5" y1="557.0" x2="95.5" y2="557.0" stroke="#a9a9a9" stroke-width="0.6" /><line x1="83.5" y1="571.0" x2="95.5" y2="571.0" stroke="#a9a9a9" stroke-width="0.6" /><rect x="-6.0" y="585.0" width="110.0" height="10.0" fill="#fff" stroke="#a9a9a9" stroke-width="0.8" /><rect x="15.0" y="587.0" width="10.0" height="6.0" fill="none" stroke="#a9a9a9" stroke-width="0.6" /><rect x="45.0" y="587.0" width="10.0" height="6.0" fill="none" stroke="#a9a9a9" stroke-width="0.6" /><rect x="75.0" y="587.0" width="10.0" height="6.0" fill="none" stroke="#a9a9a9" stroke-width="0.6" /><rect x="15.0" y="735.0" width="45.0" height="8.0" fill="#fff" stroke="#a9a9a9" stroke-width="0.8" /><rect x="35.0" y="743.0" width="10.0" height="40.0" fill="#fff" stroke="#a9a9a9" stroke-width="0.8" /><rect x="20.0" y="755.0" width="9.0" height="9.0" fill="#fff" stroke="#a9a9a9" stroke-width="0.7" /><path d="M119.0,456.0 L133.0,456.0 A14,14 0 0 1 119.0,442.0" fill="none" stroke="#555" stroke-width="0.8"/><path d="M119.0,486.0 L133.0,486.0 A14,14 0 0 1 119.0,500.0" fill="none" stroke="#555" stroke-width="0.8"/><path d="M453.0,346.0 L467.0,346.0 A14,14 0 0 1 453.0,360.0" fill="none" stroke="#555" stroke-width="0.8"/><path d="M453.0,374.0 L453.0,360.0 A14,14 0 0 1 467.0,374.0" fill="none" stroke="#555" stroke-width="0.8"/><path d="M881.0,364.0 L896.0,364.0 A15,15 0 0 1 881.0,379.0" fill="none" stroke="#555" stroke-width="0.8"/><line x1="881.0" y1="394.0" x2="888.0" y2="394.0" stroke="#555" stroke-width="0.8" /></g>
<g transform="matrix(0.97968,0.20056,-0.20056,0.97968,290.3,1574.9)"><path d="M228.0,-292.0 L214.0,-292.0 A14,14 0 0 1 228.0,-306.0" fill="none" stroke="#555" stroke-width="0.8"/><path d="M228.0,-262.0 L228.0,-248.0 A14,14 0 0 1 214.0,-262.0" fill="none" stroke="#555" stroke-width="0.8"/><path d="M446.0,-347.0 L446.0,-361.0 A14,14 0 0 1 460.0,-347.0" fill="none" stroke="#555" stroke-width="0.8"/><path d="M446.0,-318.0 L460.0,-318.0 A14,14 0 0 1 446.0,-304.0" fill="none" stroke="#555" stroke-width="0.8"/><path d="M447.0,-238.0 L447.0,-252.0 A14,14 0 0 1 461.0,-238.0" fill="none" stroke="#555" stroke-width="0.8"/><path d="M448.0,-203.0 L462.0,-203.0 A14,14 0 0 1 448.0,-189.0" fill="none" stroke="#555" stroke-width="0.8"/><path d="M130.5,-386.0 L145.5,-386.0 A15,15 0 0 1 130.5,-371.0" fill="none" stroke="#555" stroke-width="0.8"/><path d="M130.5,-354.0 L130.5,-369.0 A15,15 0 0 1 145.5,-354.0" fill="none" stroke="#555" stroke-width="0.8"/><path d="M598.0,-560.0 L598.0,-572.0 A12,12 0 0 1 610.0,-560.0" fill="none" stroke="#555" stroke-width="0.8"/><path d="M624.0,-560.0 L612.0,-560.0 A12,12 0 0 1 624.0,-572.0" fill="none" stroke="#555" stroke-width="0.8"/><path d="M679.0,-474 L679.0,-497 l4.5,-4 l4.5,4 l4.5,-4 l4.5,4 L697.0,-474" fill="none" stroke="#999" stroke-width="0.8"/><path d="M679.0,-474 L679.0,-451 l4.5,4 l4.5,-4 l4.5,4 l4.5,-4 L697.0,-474" fill="none" stroke="#999" stroke-width="0.8"/><ellipse cx="688.0" cy="-485" rx="2.6" ry="4.2" fill="none" stroke="#999" stroke-width="0.7"/><ellipse cx="688.0" cy="-462" rx="2.6" ry="4.2" fill="none" stroke="#999" stroke-width="0.7"/><path d="M697.5,-474 L697.5,-497 l4.5,-4 l4.5,4 l4.5,-4 l4.5,4 L715.5,-474" fill="none" stroke="#999" stroke-width="0.8"/><path d="M697.5,-474 L697.5,-451 l4.5,4 l4.5,-4 l4.5,4 l4.5,-4 L715.5,-474" fill="none" stroke="#999" stroke-width="0.8"/><ellipse cx="706.5" cy="-485" rx="2.6" ry="4.2" fill="none" stroke="#999" stroke-width="0.7"/><ellipse cx="706.5" cy="-462" rx="2.6" ry="4.2" fill="none" stroke="#999" stroke-width="0.7"/><path d="M716.0,-474 L716.0,-497 l4.5,-4 l4.5,4 l4.5,-4 l4.5,4 L734.0,-474" fill="none" stroke="#999" stroke-width="0.8"/><path d="M716.0,-474 L716.0,-451 l4.5,4 l4.5,-4 l4.5,4 l4.5,-4 L734.0,-474" fill="none" stroke="#999" stroke-width="0.8"/><ellipse cx="725.0" cy="-485" rx="2.6" ry="4.2" fill="none" stroke="#999" stroke-width="0.7"/><ellipse cx="725.0" cy="-462" rx="2.6" ry="4.2" fill="none" stroke="#999" stroke-width="0.7"/><path d="M734.5,-474 L734.5,-497 l4.5,-4 l4.5,4 l4.5,-4 l4.5,4 L752.5,-474" fill="none" stroke="#999" stroke-width="0.8"/><path d="M734.5,-474 L734.5,-451 l4.5,4 l4.5,-4 l4.5,4 l4.5,-4 L752.5,-474" fill="none" stroke="#999" stroke-width="0.8"/><ellipse cx="743.5" cy="-485" rx="2.6" ry="4.2" fill="none" stroke="#999" stroke-width="0.7"/><ellipse cx="743.5" cy="-462" rx="2.6" ry="4.2" fill="none" stroke="#999" stroke-width="0.7"/><circle cx="652" cy="-530" r="2.6" fill="none" stroke="#999" stroke-width="0.7"/><circle cx="652" cy="-519" r="2.6" fill="none" stroke="#999" stroke-width="0.7"/><circle cx="652" cy="-441" r="2.6" fill="none" stroke="#999" stroke-width="0.7"/><circle cx="652" cy="-430" r="2.6" fill="none" stroke="#999" stroke-width="0.7"/><line x1="657.0" y1="-538.0" x2="657.0" y2="-497.0" stroke="#aaa" stroke-width="0.7" /><line x1="655.0" y1="-450.0" x2="656.0" y2="-418.0" stroke="#aaa" stroke-width="0.7" /><path d="M690,-412 a3,3 0 0 1 6,0" fill="none" stroke="#999" stroke-width="0.7"/><path d="M706,-412 a3,3 0 0 1 6,0" fill="none" stroke="#999" stroke-width="0.7"/><path d="M722,-412 a3,3 0 0 1 6,0" fill="none" stroke="#999" stroke-width="0.7"/><path d="M738,-412 a3,3 0 0 1 6,0" fill="none" stroke="#999" stroke-width="0.7"/><rect x="645.0" y="-414.0" width="30.0" height="10.0" fill="#eee" stroke="#000" stroke-width="2.6" /><line x1="647.0" y1="-412.0" x2="673.0" y2="-406.0" stroke="#777" stroke-width="0.6" /><line x1="647.0" y1="-406.0" x2="673.0" y2="-412.0" stroke="#777" stroke-width="0.6" /></g>
<g transform="matrix(0.97968,0.20056,-0.20056,0.97968,290.3,1574.9)"><line x1="-33.7" y1="-325.5" x2="30.0" y2="-303.0" stroke="#bbb" stroke-width="0.9" stroke-dasharray="4,3"/><line x1="-34.4" y1="-232.4" x2="62.9" y2="-269.3" stroke="#bbb" stroke-width="0.9" stroke-dasharray="4,3"/><rect x="-12.0" y="-285.0" width="8.0" height="20.0" fill="#fff" stroke="#aaa" stroke-width="0.8" /><circle cx="-19.6" cy="-275.5" r="2.6" fill="none" stroke="#aaa" stroke-width="0.8"/><line x1="771.8" y1="-340.9" x2="675.7" y2="-299.3" stroke="#bbb" stroke-width="0.9" stroke-dasharray="4,3"/><line x1="770.9" y1="-230.7" x2="678.8" y2="-271.0" stroke="#bbb" stroke-width="0.9" stroke-dasharray="4,3"/><rect x="743.0" y="-294.0" width="8.0" height="18.0" fill="#fff" stroke="#aaa" stroke-width="0.8" /><circle cx="759" cy="-283" r="2.6" fill="none" stroke="#aaa" stroke-width="0.8"/></g>
<polygon points="351.5,1059.3 408.7,1056.4 418.5,1090.3 362.1,1100.2" fill="#fff" stroke="#a9a9a9" stroke-width="0.8"/>
<line x1="380.1" y1="1057.8" x2="390.3" y2="1095.2" stroke="#a9a9a9" stroke-width="0.7"/>
<line x1="355.0" y1="1072.8" x2="411.9" y2="1067.6" stroke="#a9a9a9" stroke-width="0.7"/>
<line x1="358.5" y1="1086.3" x2="415.2" y2="1078.8" stroke="#a9a9a9" stroke-width="0.7"/>
<rect x="361.3" y="1056.0" width="10" height="9" rx="2.5" fill="#fff" stroke="#a9a9a9" stroke-width="0.8" transform="rotate(-3 366.3 1061.0)"/>
<rect x="388.1" y="1048.0" width="10" height="9" rx="2.5" fill="#fff" stroke="#a9a9a9" stroke-width="0.8" transform="rotate(-3 393.1 1053.0)"/>
<line x1="354.0" y1="1058.0" x2="360.0" y2="1076.0" stroke="#a9a9a9" stroke-width="0.7"/>
<line x1="381.0" y1="1051.0" x2="387.0" y2="1069.0" stroke="#a9a9a9" stroke-width="0.7"/>
<g transform="translate(404,1134) rotate(-15)"><g fill="#fff" stroke="#a9a9a9" stroke-width="0.8"><rect x="-14" y="13" width="8" height="8" rx="3"/><rect x="-4" y="13" width="8" height="8" rx="3"/><rect x="6" y="13" width="8" height="8" rx="3"/><rect x="-22" y="0" width="8" height="8" rx="3"/><rect x="14" y="0" width="8" height="8" rx="3"/><rect x="-22" y="-10" width="8" height="8" rx="3"/><rect x="14" y="-10" width="8" height="8" rx="3"/><rect x="-15" y="-14" width="30" height="28"/></g></g>
<g transform="translate(441,1163) rotate(-15)"><g fill="#fff" stroke="#a9a9a9" stroke-width="0.8"><rect x="-18.0" y="-7.0" width="36" height="14" rx="2"/><line x1="-6.0" y1="-7.0" x2="-6.0" y2="7.0"/><line x1="6.0" y1="-7.0" x2="6.0" y2="7.0"/><line x1="-18.0" y1="-3.0" x2="18.0" y2="-3.0"/></g></g>
<g transform="translate(452,1196) rotate(-15)"><g fill="#fff" stroke="#a9a9a9" stroke-width="0.8"><rect x="-18.0" y="-7.0" width="36" height="14" rx="2"/><line x1="-6.0" y1="-7.0" x2="-6.0" y2="7.0"/><line x1="6.0" y1="-7.0" x2="6.0" y2="7.0"/><line x1="-18.0" y1="-3.0" x2="18.0" y2="-3.0"/></g></g>
<g transform="translate(446,1180) rotate(-15)"><rect x="-11" y="-5" width="22" height="10" fill="#fff" stroke="#a9a9a9" stroke-width="0.8"/></g>
<rect x="184.7" y="677.6" width="11.5" height="11.5" fill="#000" transform="rotate(-19.31 190.4 683.3)"/>
<rect x="326.3" y="627.9" width="11.5" height="11.5" fill="#000" transform="rotate(-19.31 332.1 633.7)"/>
<rect x="609.6" y="528.7" width="11.5" height="11.5" fill="#000" transform="rotate(-19.31 615.4 534.4)"/>
<rect x="751.3" y="479.0" width="11.5" height="11.5" fill="#000" transform="rotate(-19.31 757.0 484.8)"/>
<rect x="892.9" y="429.4" width="11.5" height="11.5" fill="#000" transform="rotate(-19.31 898.7 435.1)"/>
<rect x="1034.6" y="379.7" width="11.5" height="11.5" fill="#000" transform="rotate(-19.31 1040.3 385.5)"/>
<rect x="467.8" y="577.8" width="11.5" height="11.5" fill="#000" transform="rotate(-19.31 473.6 583.6)"/>
<rect x="1176.3" y="325.7" width="14" height="14" fill="#000" transform="rotate(-19.31 1183.3 332.7)"/>
<rect x="1241.8" y="513.9" width="12" height="12" fill="#000" transform="rotate(-19.31 1247.8 519.9)"/>
<rect x="1087.3" y="570.9" width="11" height="11" fill="#000" transform="rotate(-19.31 1092.8 576.4)"/>
<rect x="817.2" y="667.2" width="11.5" height="11.5" fill="#000" transform="rotate(-19.31 823.0 672.9)"/>
<rect x="958.9" y="617.6" width="11.5" height="11.5" fill="#000" transform="rotate(-19.31 964.6 623.3)"/>
<rect x="678.3" y="718.7" width="9" height="9" fill="#000" transform="rotate(-19.31 682.8 723.2)"/>
<rect x="726.8" y="859.5" width="10" height="10" fill="#000" transform="rotate(-19.31 731.8 864.5)"/>
<rect x="867.1" y="809.6" width="11.5" height="11.5" fill="#000" transform="rotate(-19.31 872.9 815.3)"/>
<rect x="1008.6" y="759.5" width="11.5" height="11.5" fill="#000" transform="rotate(-19.31 1014.3 765.2)"/>
<circle cx="256.6" cy="872.2" r="5.8" fill="#000"/>
<circle cx="398.1" cy="822.5" r="5.8" fill="#000"/>
<circle cx="289.7" cy="966.7" r="5.8" fill="#000"/>
<circle cx="431.3" cy="917.2" r="5.8" fill="#000"/>
<circle cx="539.5" cy="772.4" r="5.8" fill="#000"/>
<circle cx="572.7" cy="867.1" r="5.8" fill="#000"/>
<circle cx="589.1" cy="913.9" r="5.8" fill="#000"/>
<circle cx="642.4" cy="895.8" r="5.8" fill="#000"/>
<circle cx="1156.1" cy="714.7" r="5.8" fill="#000"/>
<circle cx="1295.7" cy="665.6" r="5.8" fill="#000"/>
<circle cx="369.1" cy="1192.0" r="5.8" fill="#000"/>
<circle cx="515.8" cy="1222.0" r="5.8" fill="#000"/>
<circle cx="663.0" cy="1252.5" r="5.8" fill="#000"/>
<circle cx="699.0" cy="1226.5" r="5.8" fill="#000"/>
<circle cx="762.8" cy="1239.1" r="5.8" fill="#000"/>
<circle cx="625.2" cy="1437.8" r="5.8" fill="#000"/>
<circle cx="919.4" cy="1498.4" r="5.8" fill="#000"/>
<circle cx="1066.3" cy="1528.6" r="5.8" fill="#000"/>
<circle cx="1104.5" cy="1342.6" r="5.8" fill="#000"/>
<circle cx="957.1" cy="1313.4" r="5.8" fill="#000"/>
<circle cx="1047.8" cy="871.3" r="4.2" fill="#000"/>
<circle cx="1018.0" cy="1018.0" r="4.2" fill="#000"/>
<circle cx="987.6" cy="1165.2" r="4.2" fill="#000"/>
<circle cx="1194.8" cy="901.5" r="4.2" fill="#000"/>
<circle cx="1164.7" cy="1048.4" r="4.2" fill="#000"/>
<circle cx="1215.5" cy="799.9" r="4.2" fill="#000"/>
<circle cx="1135.2" cy="1195.6" r="4.2" fill="#000"/>
<rect x="326.3" y="1372.5" width="10" height="10" fill="#000" transform="rotate(11.57 331.3 1377.5)"/>
<text x="290.3" y="815.6" font-size="16" font-family='"Liberation Sans", sans-serif' font-weight="normal" text-anchor="middle" dominant-baseline="central" fill="#111" letter-spacing="3" transform="rotate(-19.31 290.3 815.6)" stroke="#111" stroke-width="0.45">역사자료실</text>
<text x="777.0" y="544.2" font-size="16" font-family='"Liberation Sans", sans-serif' font-weight="normal" text-anchor="middle" dominant-baseline="central" fill="#111" letter-spacing="2.5" transform="rotate(-19.31 777.0 544.2)" stroke="#111" stroke-width="0.45">노트북열람실</text>
<text x="923.2" y="709.6" font-size="16" font-family='"Liberation Sans", sans-serif' font-weight="normal" text-anchor="middle" dominant-baseline="central" fill="#111" letter-spacing="2" transform="rotate(-19.31 923.2 709.6)" stroke="#111" stroke-width="0.45">열람실</text>
<text x="1109.1" y="959.5" font-size="16" font-family='"Liberation Sans", sans-serif' font-weight="normal" text-anchor="middle" dominant-baseline="central" fill="#111" letter-spacing="2" transform="rotate(11.57 1109.1 959.5)" stroke="#111" stroke-width="0.45">열람실</text>
<text x="661.3" y="1024.7" font-size="16" font-family='"Liberation Sans", sans-serif' font-weight="normal" text-anchor="middle" dominant-baseline="central" fill="#111" letter-spacing="1" transform="rotate(-19.31 661.3 1024.7)" stroke="#111" stroke-width="0.45">연결</text>
<text x="668.7" y="1045.4" font-size="16" font-family='"Liberation Sans", sans-serif' font-weight="normal" text-anchor="middle" dominant-baseline="central" fill="#111" letter-spacing="1" transform="rotate(-19.31 668.7 1045.4)" stroke="#111" stroke-width="0.45">브릿지</text>
<text x="392.2" y="1101.5" font-size="16" font-family='"Liberation Sans", sans-serif' font-weight="normal" text-anchor="middle" dominant-baseline="central" fill="#111" letter-spacing="2" transform="rotate(-19.31 392.2 1101.5)" stroke="#111" stroke-width="0.45">현대기독교</text>
<text x="399.9" y="1124.6" font-size="16" font-family='"Liberation Sans", sans-serif' font-weight="normal" text-anchor="middle" dominant-baseline="central" fill="#111" letter-spacing="2" transform="rotate(-19.31 399.9 1124.6)" stroke="#111" stroke-width="0.45">역사연구소</text>
<text x="446.8" y="1328.3" font-size="16" font-family='"Liberation Sans", sans-serif' font-weight="normal" text-anchor="middle" dominant-baseline="central" fill="#111" letter-spacing="2.5" transform="rotate(11.57 446.8 1328.3)" stroke="#111" stroke-width="0.45">국제회의실(소)</text>
<text x="948.0" y="1420.9" font-size="16" font-family='"Liberation Sans", sans-serif' font-weight="normal" text-anchor="middle" dominant-baseline="central" fill="#111" letter-spacing="2.5" transform="rotate(11.57 948.0 1420.9)" stroke="#111" stroke-width="0.45">국제회의실(대)</text>
<text x="488.7" y="857.9" font-size="17" font-family='"Liberation Sans", sans-serif' font-weight="normal" text-anchor="middle" dominant-baseline="central" fill="#111" letter-spacing="1.5" transform="rotate(-19.31 488.7 857.9)" stroke="#111" stroke-width="0.45">홀</text>
<text x="683.2" y="1365.5" font-size="17" font-family='"Liberation Sans", sans-serif' font-weight="normal" text-anchor="middle" dominant-baseline="central" fill="#111" letter-spacing="1.5" transform="rotate(3.47 683.2 1365.5)" stroke="#111" stroke-width="0.45">홀</text>
<text x="509.0" y="871.0" font-size="13" font-family='"Liberation Sans", sans-serif' font-weight="normal" text-anchor="middle" dominant-baseline="central" fill="#111" letter-spacing="1" transform="rotate(-19.31 509.0 871.0)" >+72.2</text>
<text x="687.0" y="1387.0" font-size="13" font-family='"Liberation Sans", sans-serif' font-weight="normal" text-anchor="middle" dominant-baseline="central" fill="#111" letter-spacing="1" transform="rotate(5.79 687.0 1387.0)" >+72.2</text>
<g transform="translate(474.6,883.6)"><line x1="-9" y1="0" x2="9" y2="0" stroke="#000" stroke-width="0.8"/><line x1="0" y1="-9" x2="0" y2="9" stroke="#000" stroke-width="0.8"/><circle r="4" fill="#fff" stroke="#000" stroke-width="1.2"/><path d="M0,-4 A4,4 0 0 1 4,0 L0,0 Z M0,4 A4,4 0 0 1 -4,0 L0,0 Z" fill="#000"/></g>
<g transform="translate(652.7,1381.7)"><line x1="-9" y1="0" x2="9" y2="0" stroke="#000" stroke-width="0.8"/><line x1="0" y1="-9" x2="0" y2="9" stroke="#000" stroke-width="0.8"/><circle r="4" fill="#fff" stroke="#000" stroke-width="1.2"/><path d="M0,-4 A4,4 0 0 1 4,0 L0,0 Z M0,4 A4,4 0 0 1 -4,0 L0,0 Z" fill="#000"/></g>
<text x="467.4" y="796.3" font-size="7" font-family='"Liberation Sans", sans-serif' font-weight="normal" text-anchor="middle" dominant-baseline="central" fill="#444" letter-spacing="0.6" transform="rotate(-19.31 467.4 796.3)" >OPEN</text>
<text x="541.8" y="1061.8" font-size="6.5" font-family='"Liberation Sans", sans-serif' font-weight="bold" text-anchor="middle" dominant-baseline="central" fill="#222" letter-spacing="1.2" transform="rotate(0.00 541.8 1061.8)" >OPEN</text>
<text x="831.0" y="1112.4" font-size="6.5" font-family='"Liberation Sans", sans-serif' font-weight="bold" text-anchor="middle" dominant-baseline="central" fill="#222" letter-spacing="1.2" transform="rotate(3.00 831.0 1112.4)" >OPEN</text>
<text x="588.0" y="1216.0" font-size="7" font-family='"Liberation Sans", sans-serif' font-weight="bold" text-anchor="middle" dominant-baseline="central" fill="#333" letter-spacing="0.6" transform="rotate(11.57 588.0 1216.0)" >OPEN</text>
<text x="527.2" y="727.1" font-size="7" font-family='"Liberation Sans", sans-serif' font-weight="bold" text-anchor="middle" dominant-baseline="central" fill="#222" letter-spacing="0.6" transform="rotate(-19.31 527.2 727.1)" >DN</text>
<text x="673.0" y="1233.0" font-size="7" font-family='"Liberation Sans", sans-serif' font-weight="bold" text-anchor="middle" dominant-baseline="central" fill="#222" letter-spacing="0.6" transform="rotate(11.57 673.0 1233.0)" >DN</text>
<text x="562.5" y="1286.0" font-size="7" font-family='"Liberation Sans", sans-serif' font-weight="bold" text-anchor="middle" dominant-baseline="central" fill="#222" letter-spacing="0.6" transform="rotate(11.57 562.5 1286.0)" >UP</text>
<text x="830.5" y="1304.5" font-size="7" font-family='"Liberation Sans", sans-serif' font-weight="bold" text-anchor="middle" dominant-baseline="central" fill="#222" letter-spacing="0.6" transform="rotate(11.57 830.5 1304.5)" >UP</text>
<text x="682.4" y="779.7" font-size="8" font-family='"Liberation Sans", sans-serif' font-weight="bold" text-anchor="middle" dominant-baseline="central" fill="#222" letter-spacing="0.6" transform="rotate(-19.31 682.4 779.7)" >UP</text>
<text x="593.0" y="752.9" font-size="9" font-family='"Liberation Sans", sans-serif' font-weight="bold" text-anchor="middle" dominant-baseline="central" fill="#222" letter-spacing="0.6" transform="rotate(70.69 593.0 752.9)" >BDS존</text>
<text x="1000.6" y="1195.9" font-size="8" font-family='"Liberation Sans", sans-serif' font-weight="bold" text-anchor="middle" dominant-baseline="central" fill="#222" letter-spacing="0.6" transform="rotate(11.57 1000.6 1195.9)" >BDS존</text>
<text x="1124.1" y="550.2" font-size="8" font-family='"Liberation Sans", sans-serif' font-weight="bold" text-anchor="middle" dominant-baseline="central" fill="#222" letter-spacing="0.6" transform="rotate(70.69 1124.1 550.2)" >BDS존</text>
<text x="1136.6" y="511.7" font-size="7" font-family='"Liberation Sans", sans-serif' font-weight="bold" text-anchor="middle" dominant-baseline="central" fill="#222" letter-spacing="0.6" transform="rotate(70.69 1136.6 511.7)" >UP</text>
<text x="1148.2" y="543.4" font-size="7" font-family='"Liberation Sans", sans-serif' font-weight="bold" text-anchor="middle" dominant-baseline="central" fill="#222" letter-spacing="0.6" transform="rotate(70.69 1148.2 543.4)" >DN</text>
<text x="513.4" y="922.5" font-size="11" font-family='"Liberation Sans", sans-serif' font-weight="normal" text-anchor="middle" dominant-baseline="central" fill="#222" letter-spacing="2.5" transform="rotate(-19.31 513.4 922.5)" >ELEV.</text>
<text x="489.0" y="604.0" font-size="8" font-family='"Liberation Sans", sans-serif' font-weight="normal" text-anchor="middle" dominant-baseline="central" fill="#444" letter-spacing="0.6" transform="rotate(-19.31 489.0 604.0)" >PS</text>
<text x="502.0" y="646.0" font-size="8" font-family='"Liberation Sans", sans-serif' font-weight="normal" text-anchor="middle" dominant-baseline="central" fill="#444" letter-spacing="1" transform="rotate(-19.31 502.0 646.0)" >EPS</text>
<text x="538.1" y="1374.5" font-size="6.5" font-family='"Liberation Sans", sans-serif' font-weight="bold" text-anchor="middle" dominant-baseline="central" fill="#222" letter-spacing="0.3" transform="rotate(11.57 538.1 1374.5)" >상부</text>
<text x="535.9" y="1385.3" font-size="6.5" font-family='"Liberation Sans", sans-serif' font-weight="bold" text-anchor="middle" dominant-baseline="central" fill="#222" letter-spacing="0.3" transform="rotate(11.57 535.9 1385.3)" >영사실</text>
<text x="533.7" y="1396.1" font-size="6.5" font-family='"Liberation Sans", sans-serif' font-weight="bold" text-anchor="middle" dominant-baseline="central" fill="#222" letter-spacing="0.3" transform="rotate(11.57 533.7 1396.1)" >동시통역실</text>
<text x="809.3" y="1383.5" font-size="6.5" font-family='"Liberation Sans", sans-serif' font-weight="bold" text-anchor="middle" dominant-baseline="central" fill="#222" letter-spacing="0.3" transform="rotate(11.57 809.3 1383.5)" >상부</text>
<text x="807.1" y="1394.3" font-size="6.5" font-family='"Liberation Sans", sans-serif' font-weight="bold" text-anchor="middle" dominant-baseline="central" fill="#222" letter-spacing="0.3" transform="rotate(11.57 807.1 1394.3)" >영사실</text>
<text x="804.9" y="1405.1" font-size="6.5" font-family='"Liberation Sans", sans-serif' font-weight="bold" text-anchor="middle" dominant-baseline="central" fill="#222" letter-spacing="0.3" transform="rotate(11.57 804.9 1405.1)" >동시통역실</text>
</svg></body></html>
